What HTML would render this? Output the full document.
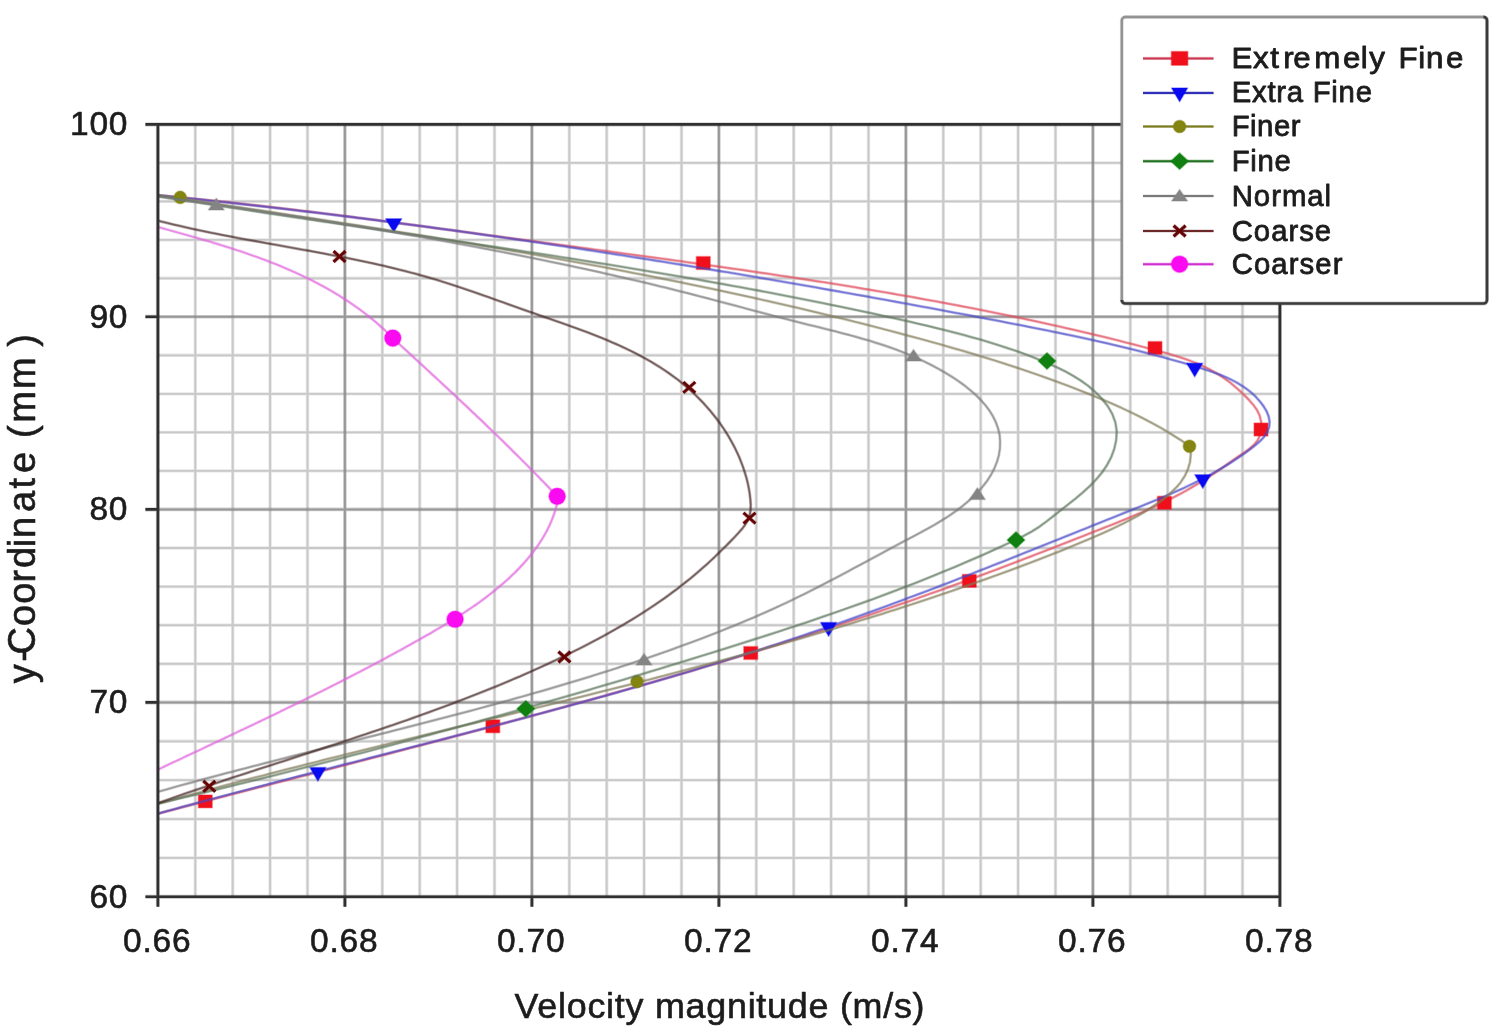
<!DOCTYPE html>
<html lang="en"><head><meta charset="utf-8"><title>Velocity magnitude vs y-Coordinate</title>
<style>html,body{margin:0;padding:0;background:#fff}body{width:1504px;height:1032px;overflow:hidden}svg{display:block}text{font-family:"Liberation Sans",sans-serif;fill:#1c1c1c}</style>
</head><body>
<svg width="1504" height="1032" viewBox="0 0 1504 1032">
<rect x="0" y="0" width="1504" height="1032" fill="#ffffff"/>
<defs><clipPath id="pc"><rect x="157.9" y="124.4" width="1122.0" height="772.4"/></clipPath></defs>
<g fill="none" stroke="#c0c0c0"><path d="M195.30,124.4V896.8M232.70,124.4V896.8M270.10,124.4V896.8M307.50,124.4V896.8M382.30,124.4V896.8M419.70,124.4V896.8M457.10,124.4V896.8M494.50,124.4V896.8M569.30,124.4V896.8M606.70,124.4V896.8M644.10,124.4V896.8M681.50,124.4V896.8M756.30,124.4V896.8M793.70,124.4V896.8M831.10,124.4V896.8M868.50,124.4V896.8M943.30,124.4V896.8M980.70,124.4V896.8M1018.10,124.4V896.8M1055.50,124.4V896.8M1130.30,124.4V896.8M1167.70,124.4V896.8M1205.10,124.4V896.8M1242.50,124.4V896.8M157.9,162.88H1279.9M157.9,201.36H1279.9M157.9,239.84H1279.9M157.9,278.32H1279.9M157.9,355.32H1279.9M157.9,393.84H1279.9M157.9,432.36H1279.9M157.9,470.88H1279.9M157.9,548.00H1279.9M157.9,586.60H1279.9M157.9,625.20H1279.9M157.9,663.80H1279.9M157.9,741.28H1279.9M157.9,780.16H1279.9M157.9,819.04H1279.9M157.9,857.92H1279.9" stroke-width="3.4" stroke-opacity="0.4"/><path d="M195.30,124.4V896.8M232.70,124.4V896.8M270.10,124.4V896.8M307.50,124.4V896.8M382.30,124.4V896.8M419.70,124.4V896.8M457.10,124.4V896.8M494.50,124.4V896.8M569.30,124.4V896.8M606.70,124.4V896.8M644.10,124.4V896.8M681.50,124.4V896.8M756.30,124.4V896.8M793.70,124.4V896.8M831.10,124.4V896.8M868.50,124.4V896.8M943.30,124.4V896.8M980.70,124.4V896.8M1018.10,124.4V896.8M1055.50,124.4V896.8M1130.30,124.4V896.8M1167.70,124.4V896.8M1205.10,124.4V896.8M1242.50,124.4V896.8M157.9,162.88H1279.9M157.9,201.36H1279.9M157.9,239.84H1279.9M157.9,278.32H1279.9M157.9,355.32H1279.9M157.9,393.84H1279.9M157.9,432.36H1279.9M157.9,470.88H1279.9M157.9,548.00H1279.9M157.9,586.60H1279.9M157.9,625.20H1279.9M157.9,663.80H1279.9M157.9,741.28H1279.9M157.9,780.16H1279.9M157.9,819.04H1279.9M157.9,857.92H1279.9" stroke-width="1.8" stroke-opacity="0.8"/></g>
<g fill="none" stroke="#8a8a8a"><path d="M344.90,124.4V896.8M531.90,124.4V896.8M718.90,124.4V896.8M905.90,124.4V896.8M1092.90,124.4V896.8M157.9,316.80H1279.9M157.9,509.40H1279.9M157.9,702.40H1279.9" stroke-width="3.6" stroke-opacity="0.4"/><path d="M344.90,124.4V896.8M531.90,124.4V896.8M718.90,124.4V896.8M905.90,124.4V896.8M1092.90,124.4V896.8M157.9,316.80H1279.9M157.9,509.40H1279.9M157.9,702.40H1279.9" stroke-width="2.0" stroke-opacity="0.8"/></g>
<g fill="none" stroke="#e04858" stroke-linecap="round" stroke-linejoin="round" clip-path="url(#pc)"><path d="M158.0,195.4 L164.3,195.9 L170.5,196.5 L176.8,197.1 L183.0,197.7 L189.3,198.3 L195.5,198.9 L201.8,199.5 L208.1,200.2 L214.3,200.8 L220.6,201.5 L226.8,202.1 L233.0,202.8 L239.3,203.5 L245.5,204.2 L251.8,204.9 L258.0,205.6 L264.2,206.3 L270.5,207.0 L276.7,207.7 L283.0,208.5 L289.2,209.2 L295.4,209.9 L301.6,210.7 L307.9,211.4 L314.1,212.2 L320.3,213.0 L326.6,213.7 L332.8,214.5 L339.0,215.3 L345.2,216.1 L351.5,216.9 L357.7,217.7 L363.9,218.5 L370.1,219.3 L376.3,220.1 L382.6,220.9 L388.8,221.7 L395.0,222.6 L401.2,223.4 L407.4,224.2 L413.6,225.1 L419.9,225.9 L426.1,226.7 L432.3,227.6 L438.5,228.4 L444.7,229.2 L451.0,230.1 L457.2,230.9 L463.4,231.8 L469.6,232.6 L475.8,233.5 L482.0,234.3 L488.3,235.2 L494.5,236.0 L500.7,236.8 L506.9,237.7 L513.1,238.5 L519.4,239.4 L525.6,240.2 L531.8,241.1 L538.0,241.9 L544.2,242.8 L550.5,243.6 L556.7,244.4 L562.9,245.3 L569.1,246.1 L575.4,246.9 L581.6,247.8 L587.8,248.6 L594.0,249.5 L600.3,250.3 L606.5,251.1 L612.7,252.0 L618.9,252.8 L625.2,253.7 L631.4,254.5 L637.6,255.4 L643.9,256.2 L650.1,257.1 L656.3,257.9 L662.5,258.8 L668.8,259.6 L675.0,260.5 L681.2,261.3 L687.4,262.2 L693.6,263.1 L699.9,263.9 L706.1,264.8 L712.3,265.7 L718.5,266.6 L724.8,267.5 L731.0,268.4 L737.2,269.2 L743.4,270.1 L749.6,271.1 L755.8,272.0 L762.1,272.9 L768.3,273.8 L774.5,274.7 L780.7,275.7 L786.9,276.6 L793.1,277.5 L799.3,278.5 L805.5,279.4 L811.7,280.4 L818.0,281.4 L824.2,282.3 L830.4,283.3 L836.6,284.3 L842.8,285.3 L849.0,286.3 L855.2,287.3 L861.3,288.4 L867.5,289.4 L873.7,290.4 L879.9,291.5 L886.1,292.5 L892.3,293.6 L898.5,294.7 L904.7,295.7 L910.8,296.8 L917.0,297.9 L923.2,299.1 L929.4,300.2 L935.5,301.3 L941.7,302.4 L947.9,303.6 L954.0,304.8 L960.2,305.9 L966.4,307.1 L972.5,308.3 L978.7,309.5 L984.8,310.7 L991.0,312.0 L997.1,313.2 L1003.3,314.5 L1009.4,315.7 L1015.5,317.0 L1021.7,318.3 L1027.8,319.6 L1033.9,320.9 L1040.1,322.3 L1046.2,323.6 L1052.3,325.0 L1058.4,326.3 L1064.5,327.7 L1070.7,329.1 L1076.8,330.5 L1082.9,332.0 L1089.0,333.4 L1095.1,334.9 L1101.2,336.3 L1107.3,337.8 L1113.4,339.3 L1119.4,340.8 L1125.5,342.4 L1131.6,343.9 L1137.7,345.5 L1143.7,347.1 L1149.8,348.7 L1155.9,350.3 L1161.9,351.9 L1168.0,353.6 L1174.0,355.4 L1180.0,357.3 L1185.9,359.2 L1191.8,361.4 L1197.6,363.7 L1203.3,366.3 L1209.0,369.0 L1214.5,372.1 L1220.0,375.4 L1225.3,379.0 L1230.5,382.9 L1235.5,387.1 L1240.4,391.4 L1245.0,395.9 L1249.4,400.4 L1253.4,405.0 L1256.9,409.9 L1259.6,415.4 L1261.1,421.6 L1261.4,428.2 L1260.4,434.4 L1257.9,439.9 L1254.2,444.6 L1249.6,448.7 L1244.5,452.4 L1239.2,456.0 L1233.9,459.6 L1228.7,463.2 L1223.5,466.9 L1218.4,470.4 L1213.2,474.0 L1208.0,477.5 L1202.7,480.8 L1197.4,484.1 L1192.0,487.3 L1186.6,490.4 L1181.2,493.4 L1175.6,496.3 L1170.1,499.2 L1164.5,501.9 L1158.8,504.6 L1153.1,507.3 L1147.4,509.8 L1141.7,512.4 L1135.9,514.8 L1130.1,517.3 L1124.3,519.7 L1118.5,522.1 L1112.7,524.4 L1106.8,526.7 L1101.0,529.0 L1095.1,531.3 L1089.3,533.6 L1083.4,535.9 L1077.5,538.2 L1071.7,540.5 L1065.8,542.8 L1060.0,545.1 L1054.1,547.4 L1048.3,549.7 L1042.4,551.9 L1036.5,554.2 L1030.7,556.5 L1024.8,558.7 L1018.9,561.0 L1013.1,563.2 L1007.2,565.4 L1001.3,567.7 L995.5,569.9 L989.6,572.1 L983.7,574.3 L977.8,576.5 L971.9,578.7 L966.1,580.8 L960.2,583.0 L954.3,585.1 L948.4,587.3 L942.5,589.4 L936.6,591.5 L930.6,593.6 L924.7,595.7 L918.8,597.8 L912.9,599.9 L907.0,602.0 L901.0,604.0 L895.1,606.1 L889.2,608.1 L883.2,610.1 L877.3,612.2 L871.4,614.2 L865.4,616.2 L859.5,618.2 L853.5,620.1 L847.5,622.1 L841.6,624.1 L835.6,626.0 L829.7,628.0 L823.7,629.9 L817.7,631.9 L811.8,633.8 L805.8,635.7 L799.8,637.6 L793.8,639.5 L787.8,641.4 L781.8,643.3 L775.9,645.2 L769.9,647.0 L763.9,648.9 L757.9,650.8 L751.9,652.6 L745.9,654.4 L739.9,656.3 L733.9,658.1 L727.9,659.9 L721.9,661.7 L715.8,663.5 L709.8,665.3 L703.8,667.1 L697.8,668.9 L691.8,670.7 L685.7,672.5 L679.7,674.2 L673.7,676.0 L667.7,677.7 L661.6,679.5 L655.6,681.2 L649.6,683.0 L643.5,684.7 L637.5,686.4 L631.5,688.1 L625.4,689.9 L619.4,691.6 L613.3,693.3 L607.3,695.0 L601.2,696.7 L595.2,698.4 L589.1,700.1 L583.1,701.7 L577.0,703.4 L571.0,705.1 L564.9,706.8 L558.9,708.4 L552.8,710.1 L546.8,711.7 L540.7,713.4 L534.6,715.0 L528.6,716.7 L522.5,718.3 L516.4,719.9 L510.4,721.6 L504.3,723.2 L498.2,724.8 L492.2,726.5 L486.1,728.1 L480.0,729.7 L474.0,731.3 L467.9,732.9 L461.8,734.5 L455.7,736.1 L449.7,737.7 L443.6,739.3 L437.5,740.9 L431.4,742.5 L425.4,744.1 L419.3,745.7 L413.2,747.3 L407.1,748.9 L401.1,750.5 L395.0,752.1 L388.9,753.7 L382.8,755.3 L376.7,756.8 L370.7,758.4 L364.6,760.0 L358.5,761.6 L352.4,763.1 L346.4,764.7 L340.3,766.3 L334.2,767.9 L328.1,769.4 L322.0,771.0 L316.0,772.6 L309.9,774.2 L303.8,775.7 L297.7,777.3 L291.6,778.9 L285.6,780.5 L279.5,782.0 L273.4,783.6 L267.3,785.2 L261.3,786.7 L255.2,788.3 L249.1,789.9 L243.0,791.5 L237.0,793.0 L230.9,794.6 L224.8,796.2 L218.8,797.8 L212.7,799.4 L206.6,800.9 L200.5,802.5 L194.5,804.1 L188.4,805.7 L182.3,807.3 L176.3,808.9 L170.2,810.5 L164.1,812.1 L158.1,813.7" stroke-width="3.0" stroke-opacity="0.35"/><path d="M158.0,195.4 L164.3,195.9 L170.5,196.5 L176.8,197.1 L183.0,197.7 L189.3,198.3 L195.5,198.9 L201.8,199.5 L208.1,200.2 L214.3,200.8 L220.6,201.5 L226.8,202.1 L233.0,202.8 L239.3,203.5 L245.5,204.2 L251.8,204.9 L258.0,205.6 L264.2,206.3 L270.5,207.0 L276.7,207.7 L283.0,208.5 L289.2,209.2 L295.4,209.9 L301.6,210.7 L307.9,211.4 L314.1,212.2 L320.3,213.0 L326.6,213.7 L332.8,214.5 L339.0,215.3 L345.2,216.1 L351.5,216.9 L357.7,217.7 L363.9,218.5 L370.1,219.3 L376.3,220.1 L382.6,220.9 L388.8,221.7 L395.0,222.6 L401.2,223.4 L407.4,224.2 L413.6,225.1 L419.9,225.9 L426.1,226.7 L432.3,227.6 L438.5,228.4 L444.7,229.2 L451.0,230.1 L457.2,230.9 L463.4,231.8 L469.6,232.6 L475.8,233.5 L482.0,234.3 L488.3,235.2 L494.5,236.0 L500.7,236.8 L506.9,237.7 L513.1,238.5 L519.4,239.4 L525.6,240.2 L531.8,241.1 L538.0,241.9 L544.2,242.8 L550.5,243.6 L556.7,244.4 L562.9,245.3 L569.1,246.1 L575.4,246.9 L581.6,247.8 L587.8,248.6 L594.0,249.5 L600.3,250.3 L606.5,251.1 L612.7,252.0 L618.9,252.8 L625.2,253.7 L631.4,254.5 L637.6,255.4 L643.9,256.2 L650.1,257.1 L656.3,257.9 L662.5,258.8 L668.8,259.6 L675.0,260.5 L681.2,261.3 L687.4,262.2 L693.6,263.1 L699.9,263.9 L706.1,264.8 L712.3,265.7 L718.5,266.6 L724.8,267.5 L731.0,268.4 L737.2,269.2 L743.4,270.1 L749.6,271.1 L755.8,272.0 L762.1,272.9 L768.3,273.8 L774.5,274.7 L780.7,275.7 L786.9,276.6 L793.1,277.5 L799.3,278.5 L805.5,279.4 L811.7,280.4 L818.0,281.4 L824.2,282.3 L830.4,283.3 L836.6,284.3 L842.8,285.3 L849.0,286.3 L855.2,287.3 L861.3,288.4 L867.5,289.4 L873.7,290.4 L879.9,291.5 L886.1,292.5 L892.3,293.6 L898.5,294.7 L904.7,295.7 L910.8,296.8 L917.0,297.9 L923.2,299.1 L929.4,300.2 L935.5,301.3 L941.7,302.4 L947.9,303.6 L954.0,304.8 L960.2,305.9 L966.4,307.1 L972.5,308.3 L978.7,309.5 L984.8,310.7 L991.0,312.0 L997.1,313.2 L1003.3,314.5 L1009.4,315.7 L1015.5,317.0 L1021.7,318.3 L1027.8,319.6 L1033.9,320.9 L1040.1,322.3 L1046.2,323.6 L1052.3,325.0 L1058.4,326.3 L1064.5,327.7 L1070.7,329.1 L1076.8,330.5 L1082.9,332.0 L1089.0,333.4 L1095.1,334.9 L1101.2,336.3 L1107.3,337.8 L1113.4,339.3 L1119.4,340.8 L1125.5,342.4 L1131.6,343.9 L1137.7,345.5 L1143.7,347.1 L1149.8,348.7 L1155.9,350.3 L1161.9,351.9 L1168.0,353.6 L1174.0,355.4 L1180.0,357.3 L1185.9,359.2 L1191.8,361.4 L1197.6,363.7 L1203.3,366.3 L1209.0,369.0 L1214.5,372.1 L1220.0,375.4 L1225.3,379.0 L1230.5,382.9 L1235.5,387.1 L1240.4,391.4 L1245.0,395.9 L1249.4,400.4 L1253.4,405.0 L1256.9,409.9 L1259.6,415.4 L1261.1,421.6 L1261.4,428.2 L1260.4,434.4 L1257.9,439.9 L1254.2,444.6 L1249.6,448.7 L1244.5,452.4 L1239.2,456.0 L1233.9,459.6 L1228.7,463.2 L1223.5,466.9 L1218.4,470.4 L1213.2,474.0 L1208.0,477.5 L1202.7,480.8 L1197.4,484.1 L1192.0,487.3 L1186.6,490.4 L1181.2,493.4 L1175.6,496.3 L1170.1,499.2 L1164.5,501.9 L1158.8,504.6 L1153.1,507.3 L1147.4,509.8 L1141.7,512.4 L1135.9,514.8 L1130.1,517.3 L1124.3,519.7 L1118.5,522.1 L1112.7,524.4 L1106.8,526.7 L1101.0,529.0 L1095.1,531.3 L1089.3,533.6 L1083.4,535.9 L1077.5,538.2 L1071.7,540.5 L1065.8,542.8 L1060.0,545.1 L1054.1,547.4 L1048.3,549.7 L1042.4,551.9 L1036.5,554.2 L1030.7,556.5 L1024.8,558.7 L1018.9,561.0 L1013.1,563.2 L1007.2,565.4 L1001.3,567.7 L995.5,569.9 L989.6,572.1 L983.7,574.3 L977.8,576.5 L971.9,578.7 L966.1,580.8 L960.2,583.0 L954.3,585.1 L948.4,587.3 L942.5,589.4 L936.6,591.5 L930.6,593.6 L924.7,595.7 L918.8,597.8 L912.9,599.9 L907.0,602.0 L901.0,604.0 L895.1,606.1 L889.2,608.1 L883.2,610.1 L877.3,612.2 L871.4,614.2 L865.4,616.2 L859.5,618.2 L853.5,620.1 L847.5,622.1 L841.6,624.1 L835.6,626.0 L829.7,628.0 L823.7,629.9 L817.7,631.9 L811.8,633.8 L805.8,635.7 L799.8,637.6 L793.8,639.5 L787.8,641.4 L781.8,643.3 L775.9,645.2 L769.9,647.0 L763.9,648.9 L757.9,650.8 L751.9,652.6 L745.9,654.4 L739.9,656.3 L733.9,658.1 L727.9,659.9 L721.9,661.7 L715.8,663.5 L709.8,665.3 L703.8,667.1 L697.8,668.9 L691.8,670.7 L685.7,672.5 L679.7,674.2 L673.7,676.0 L667.7,677.7 L661.6,679.5 L655.6,681.2 L649.6,683.0 L643.5,684.7 L637.5,686.4 L631.5,688.1 L625.4,689.9 L619.4,691.6 L613.3,693.3 L607.3,695.0 L601.2,696.7 L595.2,698.4 L589.1,700.1 L583.1,701.7 L577.0,703.4 L571.0,705.1 L564.9,706.8 L558.9,708.4 L552.8,710.1 L546.8,711.7 L540.7,713.4 L534.6,715.0 L528.6,716.7 L522.5,718.3 L516.4,719.9 L510.4,721.6 L504.3,723.2 L498.2,724.8 L492.2,726.5 L486.1,728.1 L480.0,729.7 L474.0,731.3 L467.9,732.9 L461.8,734.5 L455.7,736.1 L449.7,737.7 L443.6,739.3 L437.5,740.9 L431.4,742.5 L425.4,744.1 L419.3,745.7 L413.2,747.3 L407.1,748.9 L401.1,750.5 L395.0,752.1 L388.9,753.7 L382.8,755.3 L376.7,756.8 L370.7,758.4 L364.6,760.0 L358.5,761.6 L352.4,763.1 L346.4,764.7 L340.3,766.3 L334.2,767.9 L328.1,769.4 L322.0,771.0 L316.0,772.6 L309.9,774.2 L303.8,775.7 L297.7,777.3 L291.6,778.9 L285.6,780.5 L279.5,782.0 L273.4,783.6 L267.3,785.2 L261.3,786.7 L255.2,788.3 L249.1,789.9 L243.0,791.5 L237.0,793.0 L230.9,794.6 L224.8,796.2 L218.8,797.8 L212.7,799.4 L206.6,800.9 L200.5,802.5 L194.5,804.1 L188.4,805.7 L182.3,807.3 L176.3,808.9 L170.2,810.5 L164.1,812.1 L158.1,813.7" stroke-width="1.6" stroke-opacity="0.6"/></g>
<rect x="198.4" y="795.0" width="13.8" height="12.8" fill="#f0101c" stroke="#f0101c" stroke-width="1.6" stroke-opacity="0.35" stroke-linejoin="round"/>
<rect x="485.9" y="719.9" width="13.8" height="12.8" fill="#f0101c" stroke="#f0101c" stroke-width="1.6" stroke-opacity="0.35" stroke-linejoin="round"/>
<rect x="743.8" y="646.6" width="13.8" height="12.8" fill="#f0101c" stroke="#f0101c" stroke-width="1.6" stroke-opacity="0.35" stroke-linejoin="round"/>
<rect x="962.4" y="574.5" width="13.8" height="12.8" fill="#f0101c" stroke="#f0101c" stroke-width="1.6" stroke-opacity="0.35" stroke-linejoin="round"/>
<rect x="1157.5" y="496.4" width="13.8" height="12.8" fill="#f0101c" stroke="#f0101c" stroke-width="1.6" stroke-opacity="0.35" stroke-linejoin="round"/>
<rect x="1254.1" y="423.1" width="13.8" height="12.8" fill="#f0101c" stroke="#f0101c" stroke-width="1.6" stroke-opacity="0.35" stroke-linejoin="round"/>
<rect x="1148.1" y="341.6" width="13.8" height="12.8" fill="#f0101c" stroke="#f0101c" stroke-width="1.6" stroke-opacity="0.35" stroke-linejoin="round"/>
<rect x="696.4" y="256.6" width="13.8" height="12.8" fill="#f0101c" stroke="#f0101c" stroke-width="1.6" stroke-opacity="0.35" stroke-linejoin="round"/>
<g fill="none" stroke="#4848c8" stroke-linecap="round" stroke-linejoin="round" clip-path="url(#pc)"><path d="M158.2,195.2 L164.0,195.8 L169.9,196.4 L175.8,197.0 L181.7,197.6 L187.5,198.2 L193.4,198.8 L199.3,199.4 L205.2,200.1 L211.1,200.7 L216.9,201.3 L222.8,202.0 L228.7,202.6 L234.6,203.2 L240.5,203.9 L246.3,204.6 L252.2,205.2 L258.1,205.9 L264.0,206.6 L269.8,207.2 L275.7,207.9 L281.6,208.6 L287.5,209.3 L293.4,210.0 L299.2,210.7 L305.1,211.4 L311.0,212.1 L316.9,212.8 L322.8,213.5 L328.6,214.2 L334.5,214.9 L340.4,215.7 L346.3,216.4 L352.2,217.1 L358.0,217.9 L363.9,218.6 L369.8,219.4 L375.7,220.1 L381.6,220.9 L387.4,221.6 L393.3,222.4 L399.2,223.2 L405.1,224.0 L410.9,224.7 L416.8,225.5 L422.7,226.3 L428.6,227.1 L434.5,227.9 L440.3,228.7 L446.2,229.5 L452.1,230.3 L458.0,231.1 L463.8,231.9 L469.7,232.7 L475.6,233.6 L481.4,234.4 L487.3,235.2 L493.2,236.0 L499.1,236.9 L504.9,237.7 L510.8,238.6 L516.7,239.4 L522.6,240.3 L528.4,241.1 L534.3,242.0 L540.2,242.8 L546.0,243.7 L551.9,244.6 L557.8,245.5 L563.6,246.3 L569.5,247.2 L575.4,248.1 L581.2,249.0 L587.1,249.9 L593.0,250.8 L598.8,251.7 L604.7,252.6 L610.5,253.5 L616.4,254.4 L622.3,255.3 L628.1,256.2 L634.0,257.2 L639.8,258.1 L645.7,259.0 L651.5,259.9 L657.4,260.9 L663.3,261.8 L669.1,262.8 L675.0,263.7 L680.8,264.6 L686.7,265.6 L692.5,266.6 L698.4,267.5 L704.2,268.5 L710.1,269.4 L715.9,270.4 L721.8,271.4 L727.6,272.3 L733.5,273.3 L739.3,274.3 L745.1,275.3 L751.0,276.3 L756.8,277.3 L762.7,278.3 L768.5,279.3 L774.3,280.3 L780.2,281.3 L786.0,282.3 L791.8,283.3 L797.7,284.3 L803.5,285.3 L809.3,286.3 L815.2,287.3 L821.0,288.4 L826.8,289.4 L832.7,290.4 L838.5,291.4 L844.3,292.5 L850.1,293.5 L856.0,294.6 L861.8,295.6 L867.6,296.6 L873.4,297.7 L879.2,298.7 L885.1,299.8 L890.9,300.9 L896.7,301.9 L902.5,303.0 L908.3,304.0 L914.1,305.1 L919.9,306.2 L925.7,307.3 L931.5,308.3 L937.3,309.4 L943.1,310.5 L948.9,311.6 L954.8,312.7 L960.5,313.8 L966.3,314.8 L972.1,315.9 L977.9,317.0 L983.7,318.1 L989.5,319.2 L995.3,320.3 L1001.1,321.4 L1006.9,322.6 L1012.7,323.7 L1018.5,324.8 L1024.2,325.9 L1030.0,327.1 L1035.8,328.2 L1041.6,329.4 L1047.4,330.5 L1053.2,331.7 L1058.9,332.9 L1064.7,334.1 L1070.5,335.3 L1076.3,336.5 L1082.1,337.8 L1087.8,339.0 L1093.6,340.3 L1099.4,341.6 L1105.2,342.9 L1111.0,344.3 L1116.8,345.6 L1122.5,347.0 L1128.3,348.4 L1134.1,349.8 L1139.9,351.3 L1145.7,352.7 L1151.5,354.2 L1157.3,355.8 L1163.1,357.3 L1168.9,358.9 L1174.6,360.5 L1180.4,362.1 L1186.2,363.8 L1192.0,365.5 L1197.8,367.3 L1203.6,369.0 L1209.4,370.9 L1215.1,372.9 L1220.7,375.0 L1226.2,377.3 L1231.6,379.9 L1236.8,382.6 L1241.9,385.7 L1246.7,389.0 L1251.3,392.7 L1255.7,396.7 L1259.7,401.2 L1263.4,406.0 L1266.5,411.1 L1268.6,416.4 L1269.6,421.7 L1269.2,426.9 L1267.3,431.9 L1264.3,436.6 L1260.3,440.9 L1255.7,444.9 L1250.9,448.7 L1246.0,452.3 L1241.0,455.8 L1236.0,459.2 L1231.0,462.5 L1225.9,465.7 L1220.8,468.8 L1215.6,471.7 L1210.4,474.6 L1205.2,477.4 L1200.0,480.1 L1194.7,482.8 L1189.3,485.4 L1184.0,487.9 L1178.6,490.3 L1173.2,492.7 L1167.8,495.1 L1162.4,497.4 L1157.0,499.7 L1151.5,501.9 L1146.0,504.2 L1140.6,506.4 L1135.1,508.6 L1129.6,510.8 L1124.1,513.0 L1118.7,515.2 L1113.2,517.4 L1107.7,519.6 L1102.2,521.8 L1096.7,524.0 L1091.2,526.2 L1085.8,528.4 L1080.3,530.6 L1074.8,532.8 L1069.3,535.0 L1063.8,537.2 L1058.3,539.4 L1052.8,541.6 L1047.3,543.8 L1041.8,546.0 L1036.3,548.2 L1030.8,550.4 L1025.3,552.6 L1019.8,554.8 L1014.3,557.0 L1008.8,559.2 L1003.3,561.4 L997.8,563.5 L992.2,565.7 L986.7,567.9 L981.2,570.0 L975.7,572.2 L970.2,574.4 L964.6,576.5 L959.1,578.6 L953.6,580.8 L948.1,582.9 L942.5,585.0 L937.0,587.2 L931.4,589.3 L925.9,591.4 L920.3,593.5 L914.8,595.6 L909.2,597.6 L903.7,599.7 L898.1,601.8 L892.6,603.8 L887.0,605.9 L881.4,607.9 L875.9,610.0 L870.3,612.0 L864.7,614.0 L859.2,616.0 L853.6,618.0 L848.0,620.0 L842.4,621.9 L836.8,623.9 L831.2,625.8 L825.6,627.8 L820.0,629.7 L814.4,631.6 L808.8,633.5 L803.2,635.4 L797.6,637.3 L791.9,639.2 L786.3,641.0 L780.7,642.9 L775.1,644.7 L769.4,646.5 L763.8,648.4 L758.2,650.2 L752.5,652.0 L746.9,653.8 L741.2,655.6 L735.6,657.3 L729.9,659.1 L724.3,660.8 L718.6,662.6 L712.9,664.3 L707.3,666.1 L701.6,667.8 L695.9,669.5 L690.3,671.2 L684.6,672.9 L678.9,674.6 L673.2,676.2 L667.6,677.9 L661.9,679.6 L656.2,681.2 L650.5,682.9 L644.8,684.5 L639.1,686.2 L633.4,687.8 L627.7,689.4 L622.0,691.0 L616.3,692.7 L610.6,694.3 L604.9,695.9 L599.2,697.4 L593.5,699.0 L587.8,700.6 L582.1,702.2 L576.4,703.8 L570.7,705.3 L565.0,706.9 L559.2,708.4 L553.5,710.0 L547.8,711.5 L542.1,713.1 L536.4,714.6 L530.6,716.1 L524.9,717.7 L519.2,719.2 L513.5,720.7 L507.7,722.2 L502.0,723.8 L496.3,725.3 L490.5,726.8 L484.8,728.3 L479.1,729.8 L473.3,731.3 L467.6,732.8 L461.9,734.3 L456.1,735.8 L450.4,737.2 L444.7,738.7 L438.9,740.2 L433.2,741.7 L427.4,743.2 L421.7,744.7 L416.0,746.1 L410.2,747.6 L404.5,749.1 L398.7,750.6 L393.0,752.0 L387.3,753.5 L381.5,755.0 L375.8,756.5 L370.0,757.9 L364.3,759.4 L358.6,760.9 L352.8,762.4 L347.1,763.8 L341.3,765.3 L335.6,766.8 L329.9,768.3 L324.1,769.7 L318.4,771.2 L312.6,772.7 L306.9,774.2 L301.2,775.6 L295.4,777.1 L289.7,778.6 L284.0,780.1 L278.2,781.6 L272.5,783.1 L266.7,784.6 L261.0,786.1 L255.3,787.6 L249.6,789.1 L243.8,790.6 L238.1,792.1 L232.4,793.6 L226.6,795.1 L220.9,796.6 L215.2,798.1 L209.5,799.7 L203.7,801.2 L198.0,802.7 L192.3,804.3 L186.6,805.8 L180.9,807.3 L175.2,808.9 L169.4,810.4 L163.7,812.0 L158.0,813.6" stroke-width="3.0" stroke-opacity="0.35"/><path d="M158.2,195.2 L164.0,195.8 L169.9,196.4 L175.8,197.0 L181.7,197.6 L187.5,198.2 L193.4,198.8 L199.3,199.4 L205.2,200.1 L211.1,200.7 L216.9,201.3 L222.8,202.0 L228.7,202.6 L234.6,203.2 L240.5,203.9 L246.3,204.6 L252.2,205.2 L258.1,205.9 L264.0,206.6 L269.8,207.2 L275.7,207.9 L281.6,208.6 L287.5,209.3 L293.4,210.0 L299.2,210.7 L305.1,211.4 L311.0,212.1 L316.9,212.8 L322.8,213.5 L328.6,214.2 L334.5,214.9 L340.4,215.7 L346.3,216.4 L352.2,217.1 L358.0,217.9 L363.9,218.6 L369.8,219.4 L375.7,220.1 L381.6,220.9 L387.4,221.6 L393.3,222.4 L399.2,223.2 L405.1,224.0 L410.9,224.7 L416.8,225.5 L422.7,226.3 L428.6,227.1 L434.5,227.9 L440.3,228.7 L446.2,229.5 L452.1,230.3 L458.0,231.1 L463.8,231.9 L469.7,232.7 L475.6,233.6 L481.4,234.4 L487.3,235.2 L493.2,236.0 L499.1,236.9 L504.9,237.7 L510.8,238.6 L516.7,239.4 L522.6,240.3 L528.4,241.1 L534.3,242.0 L540.2,242.8 L546.0,243.7 L551.9,244.6 L557.8,245.5 L563.6,246.3 L569.5,247.2 L575.4,248.1 L581.2,249.0 L587.1,249.9 L593.0,250.8 L598.8,251.7 L604.7,252.6 L610.5,253.5 L616.4,254.4 L622.3,255.3 L628.1,256.2 L634.0,257.2 L639.8,258.1 L645.7,259.0 L651.5,259.9 L657.4,260.9 L663.3,261.8 L669.1,262.8 L675.0,263.7 L680.8,264.6 L686.7,265.6 L692.5,266.6 L698.4,267.5 L704.2,268.5 L710.1,269.4 L715.9,270.4 L721.8,271.4 L727.6,272.3 L733.5,273.3 L739.3,274.3 L745.1,275.3 L751.0,276.3 L756.8,277.3 L762.7,278.3 L768.5,279.3 L774.3,280.3 L780.2,281.3 L786.0,282.3 L791.8,283.3 L797.7,284.3 L803.5,285.3 L809.3,286.3 L815.2,287.3 L821.0,288.4 L826.8,289.4 L832.7,290.4 L838.5,291.4 L844.3,292.5 L850.1,293.5 L856.0,294.6 L861.8,295.6 L867.6,296.6 L873.4,297.7 L879.2,298.7 L885.1,299.8 L890.9,300.9 L896.7,301.9 L902.5,303.0 L908.3,304.0 L914.1,305.1 L919.9,306.2 L925.7,307.3 L931.5,308.3 L937.3,309.4 L943.1,310.5 L948.9,311.6 L954.8,312.7 L960.5,313.8 L966.3,314.8 L972.1,315.9 L977.9,317.0 L983.7,318.1 L989.5,319.2 L995.3,320.3 L1001.1,321.4 L1006.9,322.6 L1012.7,323.7 L1018.5,324.8 L1024.2,325.9 L1030.0,327.1 L1035.8,328.2 L1041.6,329.4 L1047.4,330.5 L1053.2,331.7 L1058.9,332.9 L1064.7,334.1 L1070.5,335.3 L1076.3,336.5 L1082.1,337.8 L1087.8,339.0 L1093.6,340.3 L1099.4,341.6 L1105.2,342.9 L1111.0,344.3 L1116.8,345.6 L1122.5,347.0 L1128.3,348.4 L1134.1,349.8 L1139.9,351.3 L1145.7,352.7 L1151.5,354.2 L1157.3,355.8 L1163.1,357.3 L1168.9,358.9 L1174.6,360.5 L1180.4,362.1 L1186.2,363.8 L1192.0,365.5 L1197.8,367.3 L1203.6,369.0 L1209.4,370.9 L1215.1,372.9 L1220.7,375.0 L1226.2,377.3 L1231.6,379.9 L1236.8,382.6 L1241.9,385.7 L1246.7,389.0 L1251.3,392.7 L1255.7,396.7 L1259.7,401.2 L1263.4,406.0 L1266.5,411.1 L1268.6,416.4 L1269.6,421.7 L1269.2,426.9 L1267.3,431.9 L1264.3,436.6 L1260.3,440.9 L1255.7,444.9 L1250.9,448.7 L1246.0,452.3 L1241.0,455.8 L1236.0,459.2 L1231.0,462.5 L1225.9,465.7 L1220.8,468.8 L1215.6,471.7 L1210.4,474.6 L1205.2,477.4 L1200.0,480.1 L1194.7,482.8 L1189.3,485.4 L1184.0,487.9 L1178.6,490.3 L1173.2,492.7 L1167.8,495.1 L1162.4,497.4 L1157.0,499.7 L1151.5,501.9 L1146.0,504.2 L1140.6,506.4 L1135.1,508.6 L1129.6,510.8 L1124.1,513.0 L1118.7,515.2 L1113.2,517.4 L1107.7,519.6 L1102.2,521.8 L1096.7,524.0 L1091.2,526.2 L1085.8,528.4 L1080.3,530.6 L1074.8,532.8 L1069.3,535.0 L1063.8,537.2 L1058.3,539.4 L1052.8,541.6 L1047.3,543.8 L1041.8,546.0 L1036.3,548.2 L1030.8,550.4 L1025.3,552.6 L1019.8,554.8 L1014.3,557.0 L1008.8,559.2 L1003.3,561.4 L997.8,563.5 L992.2,565.7 L986.7,567.9 L981.2,570.0 L975.7,572.2 L970.2,574.4 L964.6,576.5 L959.1,578.6 L953.6,580.8 L948.1,582.9 L942.5,585.0 L937.0,587.2 L931.4,589.3 L925.9,591.4 L920.3,593.5 L914.8,595.6 L909.2,597.6 L903.7,599.7 L898.1,601.8 L892.6,603.8 L887.0,605.9 L881.4,607.9 L875.9,610.0 L870.3,612.0 L864.7,614.0 L859.2,616.0 L853.6,618.0 L848.0,620.0 L842.4,621.9 L836.8,623.9 L831.2,625.8 L825.6,627.8 L820.0,629.7 L814.4,631.6 L808.8,633.5 L803.2,635.4 L797.6,637.3 L791.9,639.2 L786.3,641.0 L780.7,642.9 L775.1,644.7 L769.4,646.5 L763.8,648.4 L758.2,650.2 L752.5,652.0 L746.9,653.8 L741.2,655.6 L735.6,657.3 L729.9,659.1 L724.3,660.8 L718.6,662.6 L712.9,664.3 L707.3,666.1 L701.6,667.8 L695.9,669.5 L690.3,671.2 L684.6,672.9 L678.9,674.6 L673.2,676.2 L667.6,677.9 L661.9,679.6 L656.2,681.2 L650.5,682.9 L644.8,684.5 L639.1,686.2 L633.4,687.8 L627.7,689.4 L622.0,691.0 L616.3,692.7 L610.6,694.3 L604.9,695.9 L599.2,697.4 L593.5,699.0 L587.8,700.6 L582.1,702.2 L576.4,703.8 L570.7,705.3 L565.0,706.9 L559.2,708.4 L553.5,710.0 L547.8,711.5 L542.1,713.1 L536.4,714.6 L530.6,716.1 L524.9,717.7 L519.2,719.2 L513.5,720.7 L507.7,722.2 L502.0,723.8 L496.3,725.3 L490.5,726.8 L484.8,728.3 L479.1,729.8 L473.3,731.3 L467.6,732.8 L461.9,734.3 L456.1,735.8 L450.4,737.2 L444.7,738.7 L438.9,740.2 L433.2,741.7 L427.4,743.2 L421.7,744.7 L416.0,746.1 L410.2,747.6 L404.5,749.1 L398.7,750.6 L393.0,752.0 L387.3,753.5 L381.5,755.0 L375.8,756.5 L370.0,757.9 L364.3,759.4 L358.6,760.9 L352.8,762.4 L347.1,763.8 L341.3,765.3 L335.6,766.8 L329.9,768.3 L324.1,769.7 L318.4,771.2 L312.6,772.7 L306.9,774.2 L301.2,775.6 L295.4,777.1 L289.7,778.6 L284.0,780.1 L278.2,781.6 L272.5,783.1 L266.7,784.6 L261.0,786.1 L255.3,787.6 L249.6,789.1 L243.8,790.6 L238.1,792.1 L232.4,793.6 L226.6,795.1 L220.9,796.6 L215.2,798.1 L209.5,799.7 L203.7,801.2 L198.0,802.7 L192.3,804.3 L186.6,805.8 L180.9,807.3 L175.2,808.9 L169.4,810.4 L163.7,812.0 L158.0,813.6" stroke-width="1.6" stroke-opacity="0.6"/></g>
<path d="M309.9,767.5 L325.9,767.5 L317.9,781.1 Z" fill="#0a0af0" stroke="#0a0af0" stroke-width="1.6" stroke-opacity="0.35" stroke-linejoin="round"/>
<path d="M820.6,622.6 L836.6,622.6 L828.6,636.2 Z" fill="#0a0af0" stroke="#0a0af0" stroke-width="1.6" stroke-opacity="0.35" stroke-linejoin="round"/>
<path d="M1194.8,474.7 L1210.8,474.7 L1202.8,488.3 Z" fill="#0a0af0" stroke="#0a0af0" stroke-width="1.6" stroke-opacity="0.35" stroke-linejoin="round"/>
<path d="M1186.7,363.2 L1202.7,363.2 L1194.7,376.8 Z" fill="#0a0af0" stroke="#0a0af0" stroke-width="1.6" stroke-opacity="0.35" stroke-linejoin="round"/>
<path d="M385.7,218.7 L401.7,218.7 L393.7,232.3 Z" fill="#0a0af0" stroke="#0a0af0" stroke-width="1.6" stroke-opacity="0.35" stroke-linejoin="round"/>
<g fill="none" stroke="#807c58" stroke-linecap="round" stroke-linejoin="round" clip-path="url(#pc)"><path d="M158.1,195.2 L169.2,196.8 L180.3,198.5 L191.4,200.1 L202.5,201.8 L213.6,203.5 L224.7,205.1 L235.8,206.8 L246.9,208.5 L258.1,210.1 L269.2,211.8 L280.3,213.5 L291.4,215.2 L302.5,216.9 L313.6,218.6 L324.7,220.3 L335.8,222.0 L346.9,223.7 L358.0,225.4 L369.1,227.2 L380.2,228.9 L391.3,230.7 L402.4,232.5 L413.5,234.2 L424.5,236.0 L435.6,237.8 L446.7,239.7 L457.8,241.5 L468.9,243.3 L480.0,245.2 L491.0,247.1 L502.1,249.0 L513.2,250.9 L524.2,252.8 L535.3,254.8 L546.3,256.7 L557.4,258.7 L568.4,260.7 L579.5,262.7 L590.5,264.8 L601.6,266.8 L612.6,268.9 L623.6,271.0 L634.6,273.2 L645.7,275.3 L656.7,277.5 L667.7,279.7 L678.7,281.9 L689.7,284.2 L700.7,286.5 L711.7,288.8 L722.7,291.1 L733.6,293.5 L744.6,295.9 L755.6,298.3 L766.5,300.8 L777.5,303.3 L788.4,305.8 L799.4,308.3 L810.3,310.9 L821.2,313.5 L832.2,316.2 L843.1,318.8 L854.0,321.6 L864.9,324.3 L875.8,327.1 L886.7,329.9 L897.5,332.8 L908.4,335.7 L919.3,338.6 L930.1,341.6 L941.0,344.6 L951.8,347.7 L962.6,350.8 L973.4,354.0 L984.1,357.3 L994.9,360.6 L1005.6,364.0 L1016.3,367.5 L1026.9,371.1 L1037.5,374.7 L1048.1,378.5 L1058.6,382.3 L1069.1,386.2 L1079.6,390.3 L1090.0,394.4 L1100.4,398.7 L1110.7,403.1 L1120.9,407.6 L1131.0,412.4 L1141.1,417.3 L1151.0,422.5 L1160.9,427.9 L1170.6,433.7 L1180.2,439.7 L1189.6,446.1" stroke-width="3.0" stroke-opacity="0.35"/><path d="M158.1,195.2 L169.2,196.8 L180.3,198.5 L191.4,200.1 L202.5,201.8 L213.6,203.5 L224.7,205.1 L235.8,206.8 L246.9,208.5 L258.1,210.1 L269.2,211.8 L280.3,213.5 L291.4,215.2 L302.5,216.9 L313.6,218.6 L324.7,220.3 L335.8,222.0 L346.9,223.7 L358.0,225.4 L369.1,227.2 L380.2,228.9 L391.3,230.7 L402.4,232.5 L413.5,234.2 L424.5,236.0 L435.6,237.8 L446.7,239.7 L457.8,241.5 L468.9,243.3 L480.0,245.2 L491.0,247.1 L502.1,249.0 L513.2,250.9 L524.2,252.8 L535.3,254.8 L546.3,256.7 L557.4,258.7 L568.4,260.7 L579.5,262.7 L590.5,264.8 L601.6,266.8 L612.6,268.9 L623.6,271.0 L634.6,273.2 L645.7,275.3 L656.7,277.5 L667.7,279.7 L678.7,281.9 L689.7,284.2 L700.7,286.5 L711.7,288.8 L722.7,291.1 L733.6,293.5 L744.6,295.9 L755.6,298.3 L766.5,300.8 L777.5,303.3 L788.4,305.8 L799.4,308.3 L810.3,310.9 L821.2,313.5 L832.2,316.2 L843.1,318.8 L854.0,321.6 L864.9,324.3 L875.8,327.1 L886.7,329.9 L897.5,332.8 L908.4,335.7 L919.3,338.6 L930.1,341.6 L941.0,344.6 L951.8,347.7 L962.6,350.8 L973.4,354.0 L984.1,357.3 L994.9,360.6 L1005.6,364.0 L1016.3,367.5 L1026.9,371.1 L1037.5,374.7 L1048.1,378.5 L1058.6,382.3 L1069.1,386.2 L1079.6,390.3 L1090.0,394.4 L1100.4,398.7 L1110.7,403.1 L1120.9,407.6 L1131.0,412.4 L1141.1,417.3 L1151.0,422.5 L1160.9,427.9 L1170.6,433.7 L1180.2,439.7 L1189.6,446.1" stroke-width="1.6" stroke-opacity="0.6"/></g>
<g fill="none" stroke="#807c58" stroke-linecap="round" stroke-linejoin="round" clip-path="url(#pc)"><path d="M1190.1,446.2 L1190.8,454.5 L1190.0,462.2 L1187.9,469.4 L1184.7,476.1 L1180.6,482.4 L1175.6,488.2 L1169.9,493.7 L1163.8,498.8 L1157.3,503.5 L1150.6,508.0 L1143.9,512.2 L1137.1,516.2 L1130.2,519.9 L1123.3,523.5 L1116.3,526.9 L1109.3,530.2 L1102.2,533.4 L1095.1,536.5 L1088.0,539.6 L1080.8,542.6 L1073.6,545.6 L1066.4,548.5 L1059.2,551.5 L1052.0,554.3 L1044.7,557.2 L1037.4,560.0 L1030.1,562.8 L1022.8,565.5 L1015.5,568.3 L1008.2,571.0 L1000.8,573.7 L993.5,576.3 L986.1,579.0 L978.8,581.6 L971.4,584.2 L964.0,586.7 L956.7,589.3 L949.3,591.8 L941.9,594.3 L934.5,596.8 L927.1,599.3 L919.7,601.7 L912.3,604.2 L904.9,606.6 L897.4,609.0 L890.0,611.3 L882.6,613.7 L875.1,616.0 L867.7,618.3 L860.2,620.6 L852.8,622.9 L845.3,625.2 L837.9,627.4 L830.4,629.7 L822.9,631.9 L815.4,634.1 L807.9,636.3 L800.4,638.5 L793.0,640.6 L785.5,642.8 L777.9,644.9 L770.4,647.0 L762.9,649.1 L755.4,651.2 L747.9,653.3 L740.4,655.4 L732.8,657.4 L725.3,659.5 L717.8,661.5 L710.3,663.5 L702.7,665.5 L695.2,667.5 L687.6,669.5 L680.1,671.5 L672.5,673.5 L665.0,675.5 L657.4,677.4 L649.9,679.4 L642.3,681.3 L634.7,683.2 L627.2,685.2 L619.6,687.1 L612.0,689.0 L604.5,690.9 L596.9,692.8 L589.3,694.7 L581.7,696.6 L574.2,698.5 L566.6,700.4 L559.0,702.2 L551.4,704.1 L543.8,706.0 L536.3,707.8 L528.7,709.7 L521.1,711.5 L513.5,713.4 L505.9,715.3 L498.3,717.1 L490.7,719.0 L483.2,720.8 L475.6,722.7 L468.0,724.5 L460.4,726.4 L452.8,728.2 L445.2,730.0 L437.6,731.9 L430.0,733.7 L422.5,735.6 L414.9,737.5 L407.3,739.3 L399.7,741.2 L392.1,743.0 L384.5,744.9 L377.0,746.8 L369.4,748.6 L361.8,750.5 L354.2,752.4 L346.6,754.3 L339.1,756.2 L331.5,758.0 L323.9,759.9 L316.4,761.9 L308.8,763.8 L301.2,765.7 L293.7,767.6 L286.1,769.5 L278.5,771.5 L271.0,773.4 L263.4,775.4 L255.9,777.3 L248.3,779.3 L240.8,781.3 L233.3,783.3 L225.7,785.3 L218.2,787.3 L210.7,789.3 L203.1,791.4 L195.6,793.4 L188.1,795.5 L180.6,797.5 L173.1,799.6 L165.5,801.7 L158.0,803.8" stroke-width="3.0" stroke-opacity="0.35"/><path d="M1190.1,446.2 L1190.8,454.5 L1190.0,462.2 L1187.9,469.4 L1184.7,476.1 L1180.6,482.4 L1175.6,488.2 L1169.9,493.7 L1163.8,498.8 L1157.3,503.5 L1150.6,508.0 L1143.9,512.2 L1137.1,516.2 L1130.2,519.9 L1123.3,523.5 L1116.3,526.9 L1109.3,530.2 L1102.2,533.4 L1095.1,536.5 L1088.0,539.6 L1080.8,542.6 L1073.6,545.6 L1066.4,548.5 L1059.2,551.5 L1052.0,554.3 L1044.7,557.2 L1037.4,560.0 L1030.1,562.8 L1022.8,565.5 L1015.5,568.3 L1008.2,571.0 L1000.8,573.7 L993.5,576.3 L986.1,579.0 L978.8,581.6 L971.4,584.2 L964.0,586.7 L956.7,589.3 L949.3,591.8 L941.9,594.3 L934.5,596.8 L927.1,599.3 L919.7,601.7 L912.3,604.2 L904.9,606.6 L897.4,609.0 L890.0,611.3 L882.6,613.7 L875.1,616.0 L867.7,618.3 L860.2,620.6 L852.8,622.9 L845.3,625.2 L837.9,627.4 L830.4,629.7 L822.9,631.9 L815.4,634.1 L807.9,636.3 L800.4,638.5 L793.0,640.6 L785.5,642.8 L777.9,644.9 L770.4,647.0 L762.9,649.1 L755.4,651.2 L747.9,653.3 L740.4,655.4 L732.8,657.4 L725.3,659.5 L717.8,661.5 L710.3,663.5 L702.7,665.5 L695.2,667.5 L687.6,669.5 L680.1,671.5 L672.5,673.5 L665.0,675.5 L657.4,677.4 L649.9,679.4 L642.3,681.3 L634.7,683.2 L627.2,685.2 L619.6,687.1 L612.0,689.0 L604.5,690.9 L596.9,692.8 L589.3,694.7 L581.7,696.6 L574.2,698.5 L566.6,700.4 L559.0,702.2 L551.4,704.1 L543.8,706.0 L536.3,707.8 L528.7,709.7 L521.1,711.5 L513.5,713.4 L505.9,715.3 L498.3,717.1 L490.7,719.0 L483.2,720.8 L475.6,722.7 L468.0,724.5 L460.4,726.4 L452.8,728.2 L445.2,730.0 L437.6,731.9 L430.0,733.7 L422.5,735.6 L414.9,737.5 L407.3,739.3 L399.7,741.2 L392.1,743.0 L384.5,744.9 L377.0,746.8 L369.4,748.6 L361.8,750.5 L354.2,752.4 L346.6,754.3 L339.1,756.2 L331.5,758.0 L323.9,759.9 L316.4,761.9 L308.8,763.8 L301.2,765.7 L293.7,767.6 L286.1,769.5 L278.5,771.5 L271.0,773.4 L263.4,775.4 L255.9,777.3 L248.3,779.3 L240.8,781.3 L233.3,783.3 L225.7,785.3 L218.2,787.3 L210.7,789.3 L203.1,791.4 L195.6,793.4 L188.1,795.5 L180.6,797.5 L173.1,799.6 L165.5,801.7 L158.0,803.8" stroke-width="1.6" stroke-opacity="0.6"/></g>
<circle cx="637.0" cy="681.6" r="6.3" fill="#848410" stroke="#848410" stroke-width="1.6" stroke-opacity="0.35" stroke-linejoin="round"/>
<circle cx="1189.5" cy="446.3" r="6.3" fill="#848410" stroke="#848410" stroke-width="1.6" stroke-opacity="0.35" stroke-linejoin="round"/>
<circle cx="180.2" cy="197.4" r="6.3" fill="#848410" stroke="#848410" stroke-width="1.6" stroke-opacity="0.35" stroke-linejoin="round"/>
<g fill="none" stroke="#5a745a" stroke-linecap="round" stroke-linejoin="round" clip-path="url(#pc)"><path d="M158.0,196.0 L167.0,197.5 L175.9,198.9 L184.9,200.4 L193.9,201.8 L202.8,203.2 L211.8,204.6 L220.8,206.0 L229.8,207.4 L238.7,208.8 L247.7,210.1 L256.7,211.5 L265.7,212.9 L274.6,214.2 L283.6,215.6 L292.6,216.9 L301.6,218.3 L310.5,219.6 L319.5,221.0 L328.5,222.3 L337.5,223.6 L346.5,225.0 L355.4,226.3 L364.4,227.6 L373.4,228.9 L382.4,230.3 L391.4,231.6 L400.3,232.9 L409.3,234.2 L418.3,235.5 L427.3,236.9 L436.2,238.2 L445.2,239.5 L454.2,240.9 L463.2,242.2 L472.2,243.5 L481.1,244.9 L490.1,246.2 L499.1,247.6 L508.0,248.9 L517.0,250.3 L526.0,251.7 L535.0,253.0 L543.9,254.4 L552.9,255.8 L561.9,257.2 L570.8,258.6 L579.8,260.0 L588.7,261.4 L597.7,262.9 L606.7,264.3 L615.6,265.8 L624.6,267.2 L633.5,268.7 L642.5,270.2 L651.4,271.7 L660.4,273.2 L669.3,274.7 L678.3,276.2 L687.2,277.8 L696.2,279.3 L705.1,280.9 L714.0,282.5 L723.0,284.1 L731.9,285.7 L740.8,287.3 L749.8,289.0 L758.7,290.6 L767.6,292.3 L776.5,294.0 L785.4,295.7 L794.4,297.5 L803.3,299.2 L812.2,301.0 L821.1,302.8 L830.0,304.6 L838.9,306.4 L847.8,308.3 L856.7,310.1 L865.6,312.0 L874.5,313.9 L883.3,315.9 L892.2,317.8 L901.1,319.8 L910.0,321.8 L918.8,323.9 L927.7,325.9 L936.6,328.1 L945.4,330.2 L954.2,332.5 L963.0,334.8 L971.7,337.2 L980.5,339.6 L989.2,342.2 L997.8,344.9 L1006.4,347.7 L1015.0,350.6 L1023.5,353.6 L1032.0,356.8 L1040.4,360.2 L1048.7,363.7 L1056.9,367.3 L1065.1,371.3 L1073.0,375.7 L1080.7,380.5 L1088.2,385.9 L1095.3,392.0 L1101.9,398.8 L1107.8,406.2 L1112.4,414.2 L1115.4,422.5 L1116.7,431.2 L1116.2,440.0 L1114.3,448.7 L1111.2,457.2 L1106.9,465.3 L1101.8,472.8 L1095.9,479.8 L1089.5,486.4 L1082.6,492.6 L1075.5,498.6 L1068.2,504.4 L1060.9,510.1 L1053.7,515.8 L1046.6,521.4 L1039.4,526.7 L1031.8,531.5 L1023.9,535.8 L1015.7,539.7 L1007.5,543.6 L999.3,547.4 L991.1,551.2 L982.8,554.9 L974.5,558.5 L966.2,562.1 L957.9,565.7 L949.5,569.2 L941.1,572.6 L932.7,576.1 L924.3,579.4 L915.9,582.8 L907.4,586.1 L899.0,589.3 L890.5,592.5 L882.0,595.7 L873.5,598.9 L864.9,602.0 L856.4,605.0 L847.8,608.1 L839.3,611.1 L830.7,614.1 L822.1,617.0 L813.5,620.0 L804.9,622.9 L796.2,625.7 L787.6,628.6 L779.0,631.4 L770.3,634.2 L761.7,637.0 L753.0,639.8 L744.3,642.5 L735.7,645.3 L727.0,648.0 L718.3,650.7 L709.6,653.4 L701.0,656.1 L692.3,658.8 L683.6,661.5 L674.9,664.1 L666.2,666.8 L657.5,669.4 L648.8,672.0 L640.1,674.7 L631.4,677.3 L622.7,679.9 L614.0,682.5 L605.3,685.0 L596.6,687.6 L587.9,690.2 L579.2,692.7 L570.5,695.2 L561.8,697.8 L553.1,700.3 L544.3,702.8 L535.6,705.3 L526.9,707.8 L518.2,710.2 L509.4,712.7 L500.7,715.2 L492.0,717.6 L483.2,720.0 L474.5,722.5 L465.7,724.9 L457.0,727.3 L448.2,729.7 L439.5,732.1 L430.7,734.5 L422.0,736.8 L413.2,739.2 L404.5,741.5 L395.7,743.9 L386.9,746.2 L378.2,748.5 L369.4,750.9 L360.6,753.2 L351.8,755.4 L343.1,757.7 L334.3,760.0 L325.5,762.3 L316.7,764.5 L307.9,766.8 L299.1,769.0 L290.3,771.2 L281.5,773.5 L272.7,775.7 L263.9,777.9 L255.1,780.1 L246.3,782.3 L237.5,784.4 L228.6,786.6 L219.8,788.8 L211.0,790.9 L202.2,793.1 L193.3,795.2 L184.5,797.3 L175.7,799.4 L166.8,801.5 L158.0,803.6" stroke-width="3.0" stroke-opacity="0.35"/><path d="M158.0,196.0 L167.0,197.5 L175.9,198.9 L184.9,200.4 L193.9,201.8 L202.8,203.2 L211.8,204.6 L220.8,206.0 L229.8,207.4 L238.7,208.8 L247.7,210.1 L256.7,211.5 L265.7,212.9 L274.6,214.2 L283.6,215.6 L292.6,216.9 L301.6,218.3 L310.5,219.6 L319.5,221.0 L328.5,222.3 L337.5,223.6 L346.5,225.0 L355.4,226.3 L364.4,227.6 L373.4,228.9 L382.4,230.3 L391.4,231.6 L400.3,232.9 L409.3,234.2 L418.3,235.5 L427.3,236.9 L436.2,238.2 L445.2,239.5 L454.2,240.9 L463.2,242.2 L472.2,243.5 L481.1,244.9 L490.1,246.2 L499.1,247.6 L508.0,248.9 L517.0,250.3 L526.0,251.7 L535.0,253.0 L543.9,254.4 L552.9,255.8 L561.9,257.2 L570.8,258.6 L579.8,260.0 L588.7,261.4 L597.7,262.9 L606.7,264.3 L615.6,265.8 L624.6,267.2 L633.5,268.7 L642.5,270.2 L651.4,271.7 L660.4,273.2 L669.3,274.7 L678.3,276.2 L687.2,277.8 L696.2,279.3 L705.1,280.9 L714.0,282.5 L723.0,284.1 L731.9,285.7 L740.8,287.3 L749.8,289.0 L758.7,290.6 L767.6,292.3 L776.5,294.0 L785.4,295.7 L794.4,297.5 L803.3,299.2 L812.2,301.0 L821.1,302.8 L830.0,304.6 L838.9,306.4 L847.8,308.3 L856.7,310.1 L865.6,312.0 L874.5,313.9 L883.3,315.9 L892.2,317.8 L901.1,319.8 L910.0,321.8 L918.8,323.9 L927.7,325.9 L936.6,328.1 L945.4,330.2 L954.2,332.5 L963.0,334.8 L971.7,337.2 L980.5,339.6 L989.2,342.2 L997.8,344.9 L1006.4,347.7 L1015.0,350.6 L1023.5,353.6 L1032.0,356.8 L1040.4,360.2 L1048.7,363.7 L1056.9,367.3 L1065.1,371.3 L1073.0,375.7 L1080.7,380.5 L1088.2,385.9 L1095.3,392.0 L1101.9,398.8 L1107.8,406.2 L1112.4,414.2 L1115.4,422.5 L1116.7,431.2 L1116.2,440.0 L1114.3,448.7 L1111.2,457.2 L1106.9,465.3 L1101.8,472.8 L1095.9,479.8 L1089.5,486.4 L1082.6,492.6 L1075.5,498.6 L1068.2,504.4 L1060.9,510.1 L1053.7,515.8 L1046.6,521.4 L1039.4,526.7 L1031.8,531.5 L1023.9,535.8 L1015.7,539.7 L1007.5,543.6 L999.3,547.4 L991.1,551.2 L982.8,554.9 L974.5,558.5 L966.2,562.1 L957.9,565.7 L949.5,569.2 L941.1,572.6 L932.7,576.1 L924.3,579.4 L915.9,582.8 L907.4,586.1 L899.0,589.3 L890.5,592.5 L882.0,595.7 L873.5,598.9 L864.9,602.0 L856.4,605.0 L847.8,608.1 L839.3,611.1 L830.7,614.1 L822.1,617.0 L813.5,620.0 L804.9,622.9 L796.2,625.7 L787.6,628.6 L779.0,631.4 L770.3,634.2 L761.7,637.0 L753.0,639.8 L744.3,642.5 L735.7,645.3 L727.0,648.0 L718.3,650.7 L709.6,653.4 L701.0,656.1 L692.3,658.8 L683.6,661.5 L674.9,664.1 L666.2,666.8 L657.5,669.4 L648.8,672.0 L640.1,674.7 L631.4,677.3 L622.7,679.9 L614.0,682.5 L605.3,685.0 L596.6,687.6 L587.9,690.2 L579.2,692.7 L570.5,695.2 L561.8,697.8 L553.1,700.3 L544.3,702.8 L535.6,705.3 L526.9,707.8 L518.2,710.2 L509.4,712.7 L500.7,715.2 L492.0,717.6 L483.2,720.0 L474.5,722.5 L465.7,724.9 L457.0,727.3 L448.2,729.7 L439.5,732.1 L430.7,734.5 L422.0,736.8 L413.2,739.2 L404.5,741.5 L395.7,743.9 L386.9,746.2 L378.2,748.5 L369.4,750.9 L360.6,753.2 L351.8,755.4 L343.1,757.7 L334.3,760.0 L325.5,762.3 L316.7,764.5 L307.9,766.8 L299.1,769.0 L290.3,771.2 L281.5,773.5 L272.7,775.7 L263.9,777.9 L255.1,780.1 L246.3,782.3 L237.5,784.4 L228.6,786.6 L219.8,788.8 L211.0,790.9 L202.2,793.1 L193.3,795.2 L184.5,797.3 L175.7,799.4 L166.8,801.5 L158.0,803.6" stroke-width="1.6" stroke-opacity="0.6"/></g>
<path d="M516.9,708.8 L525.8,700.5 L534.7,708.8 L525.8,717.1 Z" fill="#108010" stroke="#108010" stroke-width="1.6" stroke-opacity="0.35" stroke-linejoin="round"/>
<path d="M1007.1,540.0 L1016.0,531.7 L1024.9,540.0 L1016.0,548.3 Z" fill="#108010" stroke="#108010" stroke-width="1.6" stroke-opacity="0.35" stroke-linejoin="round"/>
<path d="M1038.1,361.0 L1047.0,352.7 L1055.9,361.0 L1047.0,369.3 Z" fill="#108010" stroke="#108010" stroke-width="1.6" stroke-opacity="0.35" stroke-linejoin="round"/>
<g fill="none" stroke="#787878" stroke-linecap="round" stroke-linejoin="round" clip-path="url(#pc)"><path d="M158.0,196.6 L164.9,197.5 L171.8,198.5 L178.7,199.5 L185.6,200.4 L192.6,201.4 L199.5,202.4 L206.4,203.4 L213.3,204.3 L220.2,205.3 L227.1,206.3 L234.0,207.3 L240.9,208.3 L247.8,209.3 L254.7,210.4 L261.6,211.4 L268.6,212.4 L275.5,213.4 L282.4,214.5 L289.3,215.5 L296.2,216.6 L303.1,217.6 L310.0,218.7 L316.9,219.8 L323.8,220.9 L330.7,222.0 L337.6,223.1 L344.5,224.2 L351.3,225.3 L358.2,226.4 L365.1,227.5 L372.0,228.6 L378.9,229.8 L385.8,230.9 L392.7,232.1 L399.6,233.3 L406.4,234.5 L413.3,235.6 L420.2,236.8 L427.1,238.1 L433.9,239.3 L440.8,240.5 L447.7,241.7 L454.6,243.0 L461.4,244.3 L468.3,245.5 L475.1,246.8 L482.0,248.1 L488.9,249.4 L495.7,250.7 L502.6,252.0 L509.4,253.4 L516.3,254.7 L523.1,256.1 L530.0,257.5 L536.8,258.9 L543.6,260.3 L550.5,261.7 L557.3,263.1 L564.1,264.5 L571.0,266.0 L577.8,267.5 L584.6,268.9 L591.4,270.4 L598.3,271.9 L605.1,273.5 L611.9,275.0 L618.7,276.6 L625.5,278.1 L632.3,279.7 L639.1,281.3 L645.9,282.9 L652.7,284.5 L659.5,286.2 L666.2,287.8 L673.0,289.5 L679.8,291.2 L686.6,292.9 L693.3,294.6 L700.1,296.4 L706.9,298.1 L713.6,299.9 L720.4,301.7 L727.1,303.5 L733.9,305.3 L740.7,307.1 L747.4,308.9 L754.2,310.7 L760.9,312.5 L767.7,314.3 L774.4,316.1 L781.2,317.8 L788.0,319.6 L794.8,321.3 L801.5,323.0 L808.3,324.7 L815.1,326.3 L821.9,328.0 L828.7,329.7 L835.5,331.4 L842.2,333.2 L849.0,334.9 L855.7,336.8 L862.4,338.7 L869.1,340.6 L875.7,342.7 L882.3,344.8 L888.9,347.0 L895.4,349.3 L901.9,351.8 L908.3,354.4 L914.7,357.1 L921.0,359.9 L927.3,363.0 L933.6,366.2 L939.9,369.6 L946.1,373.2 L952.4,377.1 L958.5,381.2 L964.5,385.5 L970.2,390.1 L975.7,394.9 L980.7,399.9 L985.4,405.2 L989.5,410.7 L993.0,416.4 L995.9,422.4 L998.1,428.5 L999.6,435.0 L1000.1,441.6 L999.9,448.4 L998.9,455.1 L997.0,461.8 L994.4,468.3 L991.2,474.5 L987.4,480.5 L983.1,486.1 L978.5,491.4 L973.5,496.4 L968.4,501.2 L963.0,505.7 L957.5,509.9 L951.8,513.9 L946.0,517.8 L940.0,521.5 L934.0,525.1 L927.9,528.5 L921.7,531.9 L915.5,535.2 L909.3,538.5 L903.0,541.8 L896.8,545.1 L890.7,548.4 L884.5,551.8 L878.3,555.1 L872.2,558.4 L866.0,561.7 L859.9,565.0 L853.7,568.3 L847.6,571.6 L841.5,574.9 L835.3,578.1 L829.1,581.3 L823.0,584.5 L816.8,587.7 L810.6,590.9 L804.4,594.0 L798.1,597.0 L791.9,600.1 L785.6,603.1 L779.3,606.0 L773.0,608.9 L766.6,611.8 L760.3,614.6 L753.9,617.4 L747.4,620.1 L741.0,622.8 L734.6,625.5 L728.1,628.1 L721.6,630.7 L715.1,633.3 L708.6,635.8 L702.1,638.3 L695.5,640.8 L689.0,643.2 L682.4,645.6 L675.8,648.0 L669.3,650.4 L662.7,652.7 L656.1,655.0 L649.4,657.3 L642.8,659.5 L636.2,661.7 L629.6,663.9 L622.9,666.1 L616.3,668.3 L609.6,670.4 L603.0,672.5 L596.3,674.6 L589.6,676.7 L583.0,678.7 L576.3,680.8 L569.6,682.8 L562.9,684.8 L556.2,686.8 L549.5,688.7 L542.8,690.7 L536.1,692.6 L529.4,694.5 L522.7,696.4 L516.0,698.3 L509.3,700.2 L502.5,702.0 L495.8,703.9 L489.1,705.7 L482.4,707.6 L475.6,709.4 L468.9,711.2 L462.1,713.0 L455.4,714.7 L448.6,716.5 L441.9,718.3 L435.1,720.0 L428.4,721.8 L421.6,723.5 L414.9,725.3 L408.1,727.0 L401.3,728.7 L394.6,730.4 L387.8,732.2 L381.0,733.9 L374.3,735.6 L367.5,737.3 L360.7,739.0 L354.0,740.7 L347.2,742.4 L340.4,744.1 L333.7,745.8 L326.9,747.5 L320.1,749.2 L313.3,750.9 L306.6,752.6 L299.8,754.3 L293.0,756.0 L286.3,757.8 L279.5,759.5 L272.7,761.2 L266.0,762.9 L259.2,764.7 L252.4,766.4 L245.7,768.2 L238.9,769.9 L232.2,771.7 L225.4,773.4 L218.7,775.2 L211.9,777.0 L205.2,778.8 L198.4,780.6 L191.7,782.5 L184.9,784.3 L178.2,786.1 L171.5,788.0 L164.8,789.9 L158.0,791.7" stroke-width="3.0" stroke-opacity="0.35"/><path d="M158.0,196.6 L164.9,197.5 L171.8,198.5 L178.7,199.5 L185.6,200.4 L192.6,201.4 L199.5,202.4 L206.4,203.4 L213.3,204.3 L220.2,205.3 L227.1,206.3 L234.0,207.3 L240.9,208.3 L247.8,209.3 L254.7,210.4 L261.6,211.4 L268.6,212.4 L275.5,213.4 L282.4,214.5 L289.3,215.5 L296.2,216.6 L303.1,217.6 L310.0,218.7 L316.9,219.8 L323.8,220.9 L330.7,222.0 L337.6,223.1 L344.5,224.2 L351.3,225.3 L358.2,226.4 L365.1,227.5 L372.0,228.6 L378.9,229.8 L385.8,230.9 L392.7,232.1 L399.6,233.3 L406.4,234.5 L413.3,235.6 L420.2,236.8 L427.1,238.1 L433.9,239.3 L440.8,240.5 L447.7,241.7 L454.6,243.0 L461.4,244.3 L468.3,245.5 L475.1,246.8 L482.0,248.1 L488.9,249.4 L495.7,250.7 L502.6,252.0 L509.4,253.4 L516.3,254.7 L523.1,256.1 L530.0,257.5 L536.8,258.9 L543.6,260.3 L550.5,261.7 L557.3,263.1 L564.1,264.5 L571.0,266.0 L577.8,267.5 L584.6,268.9 L591.4,270.4 L598.3,271.9 L605.1,273.5 L611.9,275.0 L618.7,276.6 L625.5,278.1 L632.3,279.7 L639.1,281.3 L645.9,282.9 L652.7,284.5 L659.5,286.2 L666.2,287.8 L673.0,289.5 L679.8,291.2 L686.6,292.9 L693.3,294.6 L700.1,296.4 L706.9,298.1 L713.6,299.9 L720.4,301.7 L727.1,303.5 L733.9,305.3 L740.7,307.1 L747.4,308.9 L754.2,310.7 L760.9,312.5 L767.7,314.3 L774.4,316.1 L781.2,317.8 L788.0,319.6 L794.8,321.3 L801.5,323.0 L808.3,324.7 L815.1,326.3 L821.9,328.0 L828.7,329.7 L835.5,331.4 L842.2,333.2 L849.0,334.9 L855.7,336.8 L862.4,338.7 L869.1,340.6 L875.7,342.7 L882.3,344.8 L888.9,347.0 L895.4,349.3 L901.9,351.8 L908.3,354.4 L914.7,357.1 L921.0,359.9 L927.3,363.0 L933.6,366.2 L939.9,369.6 L946.1,373.2 L952.4,377.1 L958.5,381.2 L964.5,385.5 L970.2,390.1 L975.7,394.9 L980.7,399.9 L985.4,405.2 L989.5,410.7 L993.0,416.4 L995.9,422.4 L998.1,428.5 L999.6,435.0 L1000.1,441.6 L999.9,448.4 L998.9,455.1 L997.0,461.8 L994.4,468.3 L991.2,474.5 L987.4,480.5 L983.1,486.1 L978.5,491.4 L973.5,496.4 L968.4,501.2 L963.0,505.7 L957.5,509.9 L951.8,513.9 L946.0,517.8 L940.0,521.5 L934.0,525.1 L927.9,528.5 L921.7,531.9 L915.5,535.2 L909.3,538.5 L903.0,541.8 L896.8,545.1 L890.7,548.4 L884.5,551.8 L878.3,555.1 L872.2,558.4 L866.0,561.7 L859.9,565.0 L853.7,568.3 L847.6,571.6 L841.5,574.9 L835.3,578.1 L829.1,581.3 L823.0,584.5 L816.8,587.7 L810.6,590.9 L804.4,594.0 L798.1,597.0 L791.9,600.1 L785.6,603.1 L779.3,606.0 L773.0,608.9 L766.6,611.8 L760.3,614.6 L753.9,617.4 L747.4,620.1 L741.0,622.8 L734.6,625.5 L728.1,628.1 L721.6,630.7 L715.1,633.3 L708.6,635.8 L702.1,638.3 L695.5,640.8 L689.0,643.2 L682.4,645.6 L675.8,648.0 L669.3,650.4 L662.7,652.7 L656.1,655.0 L649.4,657.3 L642.8,659.5 L636.2,661.7 L629.6,663.9 L622.9,666.1 L616.3,668.3 L609.6,670.4 L603.0,672.5 L596.3,674.6 L589.6,676.7 L583.0,678.7 L576.3,680.8 L569.6,682.8 L562.9,684.8 L556.2,686.8 L549.5,688.7 L542.8,690.7 L536.1,692.6 L529.4,694.5 L522.7,696.4 L516.0,698.3 L509.3,700.2 L502.5,702.0 L495.8,703.9 L489.1,705.7 L482.4,707.6 L475.6,709.4 L468.9,711.2 L462.1,713.0 L455.4,714.7 L448.6,716.5 L441.9,718.3 L435.1,720.0 L428.4,721.8 L421.6,723.5 L414.9,725.3 L408.1,727.0 L401.3,728.7 L394.6,730.4 L387.8,732.2 L381.0,733.9 L374.3,735.6 L367.5,737.3 L360.7,739.0 L354.0,740.7 L347.2,742.4 L340.4,744.1 L333.7,745.8 L326.9,747.5 L320.1,749.2 L313.3,750.9 L306.6,752.6 L299.8,754.3 L293.0,756.0 L286.3,757.8 L279.5,759.5 L272.7,761.2 L266.0,762.9 L259.2,764.7 L252.4,766.4 L245.7,768.2 L238.9,769.9 L232.2,771.7 L225.4,773.4 L218.7,775.2 L211.9,777.0 L205.2,778.8 L198.4,780.6 L191.7,782.5 L184.9,784.3 L178.2,786.1 L171.5,788.0 L164.8,789.9 L158.0,791.7" stroke-width="1.6" stroke-opacity="0.6"/></g>
<path d="M636.1,665.0 L651.9,665.0 L644.0,653.4 Z" fill="#848484" stroke="#848484" stroke-width="1.6" stroke-opacity="0.35" stroke-linejoin="round"/>
<path d="M969.5,499.4 L985.3,499.4 L977.4,487.8 Z" fill="#848484" stroke="#848484" stroke-width="1.6" stroke-opacity="0.35" stroke-linejoin="round"/>
<path d="M905.6,361.0 L921.4,361.0 L913.5,349.4 Z" fill="#848484" stroke="#848484" stroke-width="1.6" stroke-opacity="0.35" stroke-linejoin="round"/>
<path d="M208.4,209.9 L224.2,209.9 L216.3,198.3 Z" fill="#848484" stroke="#848484" stroke-width="1.6" stroke-opacity="0.35" stroke-linejoin="round"/>
<g fill="none" stroke="#442424" stroke-linecap="round" stroke-linejoin="round" clip-path="url(#pc)"><path d="M158.0,220.7 L163.2,222.0 L168.5,223.3 L173.8,224.6 L179.1,225.8 L184.4,227.0 L189.7,228.2 L195.0,229.4 L200.3,230.5 L205.7,231.6 L211.0,232.7 L216.4,233.8 L221.7,234.9 L227.1,235.9 L232.5,236.9 L237.9,238.0 L243.3,239.0 L248.7,240.0 L254.1,240.9 L259.5,241.9 L264.9,242.9 L270.3,243.9 L275.7,244.8 L281.1,245.8 L286.5,246.8 L292.0,247.7 L297.4,248.7 L302.8,249.7 L308.2,250.6 L313.6,251.6 L319.0,252.6 L324.4,253.6 L329.9,254.7 L335.3,255.7 L340.7,256.7 L346.0,257.8 L351.4,258.9 L356.8,260.0 L362.2,261.1 L367.6,262.3 L372.9,263.4 L378.3,264.6 L383.6,265.8 L389.0,267.1 L394.3,268.4 L399.6,269.7 L404.9,271.0 L410.2,272.4 L415.5,273.8 L420.7,275.3 L426.0,276.7 L431.2,278.3 L436.5,279.8 L441.7,281.4 L446.9,283.1 L452.1,284.7 L457.3,286.4 L462.5,288.2 L467.6,289.9 L472.8,291.7 L478.0,293.5 L483.1,295.3 L488.3,297.1 L493.4,298.9 L498.6,300.8 L503.7,302.6 L508.9,304.5 L514.1,306.3 L519.3,308.2 L524.4,310.0 L529.6,311.8 L534.8,313.6 L540.0,315.5 L545.2,317.3 L550.5,319.1 L555.7,320.9 L560.9,322.7 L566.1,324.6 L571.3,326.4 L576.5,328.3 L581.6,330.2 L586.8,332.1 L591.9,334.1 L597.0,336.1 L602.1,338.1 L607.2,340.2 L612.2,342.4 L617.2,344.5 L622.2,346.8 L627.1,349.1 L632.0,351.5 L636.9,354.0 L641.6,356.5 L646.4,359.1 L651.1,361.8 L655.7,364.6 L660.3,367.4 L664.9,370.4 L669.3,373.5 L673.7,376.7 L678.1,379.9 L682.3,383.3 L686.5,386.8 L690.6,390.5 L694.7,394.2 L698.6,398.1 L702.5,402.1 L706.2,406.2 L709.9,410.4 L713.4,414.7 L716.8,419.0 L720.1,423.5 L723.3,428.1 L726.3,432.7 L729.2,437.5 L731.9,442.3 L734.5,447.2 L736.9,452.1 L739.2,457.1 L741.2,462.2 L743.1,467.3 L744.8,472.5 L746.4,477.7 L747.7,482.9 L748.8,488.2 L749.7,493.6 L750.3,498.9 L750.7,504.3 L750.6,509.6 L749.8,514.7 L748.1,519.6 L745.5,524.2 L742.3,528.6 L738.6,532.8 L734.7,537.0 L730.7,541.1 L726.8,545.1 L722.8,549.0 L718.9,552.9 L714.9,556.8 L710.9,560.5 L706.8,564.3 L702.7,567.9 L698.6,571.5 L694.4,575.1 L690.2,578.6 L685.9,582.0 L681.6,585.4 L677.3,588.8 L672.9,592.0 L668.5,595.3 L664.1,598.5 L659.6,601.6 L655.1,604.7 L650.6,607.7 L646.0,610.7 L641.4,613.7 L636.8,616.6 L632.1,619.5 L627.4,622.3 L622.7,625.1 L618.0,627.8 L613.2,630.5 L608.4,633.2 L603.7,635.9 L598.8,638.5 L594.0,641.0 L589.1,643.6 L584.3,646.1 L579.4,648.6 L574.5,651.0 L569.6,653.5 L564.7,655.9 L559.7,658.2 L554.8,660.6 L549.8,662.9 L544.9,665.2 L539.9,667.5 L534.9,669.7 L529.9,672.0 L524.9,674.2 L519.9,676.4 L514.8,678.5 L509.8,680.7 L504.8,682.8 L499.7,684.9 L494.7,687.0 L489.6,689.0 L484.5,691.1 L479.4,693.1 L474.3,695.1 L469.2,697.1 L464.1,699.1 L459.0,701.0 L453.9,703.0 L448.8,704.9 L443.7,706.8 L438.5,708.7 L433.4,710.6 L428.2,712.5 L423.1,714.3 L417.9,716.2 L412.8,718.0 L407.6,719.9 L402.4,721.7 L397.2,723.5 L392.1,725.3 L386.9,727.0 L381.7,728.8 L376.5,730.6 L371.3,732.3 L366.1,734.1 L360.9,735.8 L355.7,737.5 L350.5,739.3 L345.3,741.0 L340.1,742.7 L334.9,744.4 L329.6,746.1 L324.4,747.8 L319.2,749.5 L314.0,751.2 L308.8,752.9 L303.6,754.6 L298.4,756.3 L293.1,758.0 L287.9,759.7 L282.7,761.4 L277.5,763.1 L272.3,764.7 L267.1,766.4 L261.9,768.1 L256.6,769.8 L251.4,771.5 L246.2,773.2 L241.0,774.9 L235.8,776.6 L230.6,778.3 L225.4,780.0 L220.2,781.8 L215.0,783.5 L209.9,785.2 L204.7,787.0 L199.5,788.7 L194.3,790.5 L189.1,792.2 L184.0,794.0 L178.8,795.8 L173.7,797.6 L168.5,799.4 L163.4,801.2 L158.2,803.0" stroke-width="3.0" stroke-opacity="0.35"/><path d="M158.0,220.7 L163.2,222.0 L168.5,223.3 L173.8,224.6 L179.1,225.8 L184.4,227.0 L189.7,228.2 L195.0,229.4 L200.3,230.5 L205.7,231.6 L211.0,232.7 L216.4,233.8 L221.7,234.9 L227.1,235.9 L232.5,236.9 L237.9,238.0 L243.3,239.0 L248.7,240.0 L254.1,240.9 L259.5,241.9 L264.9,242.9 L270.3,243.9 L275.7,244.8 L281.1,245.8 L286.5,246.8 L292.0,247.7 L297.4,248.7 L302.8,249.7 L308.2,250.6 L313.6,251.6 L319.0,252.6 L324.4,253.6 L329.9,254.7 L335.3,255.7 L340.7,256.7 L346.0,257.8 L351.4,258.9 L356.8,260.0 L362.2,261.1 L367.6,262.3 L372.9,263.4 L378.3,264.6 L383.6,265.8 L389.0,267.1 L394.3,268.4 L399.6,269.7 L404.9,271.0 L410.2,272.4 L415.5,273.8 L420.7,275.3 L426.0,276.7 L431.2,278.3 L436.5,279.8 L441.7,281.4 L446.9,283.1 L452.1,284.7 L457.3,286.4 L462.5,288.2 L467.6,289.9 L472.8,291.7 L478.0,293.5 L483.1,295.3 L488.3,297.1 L493.4,298.9 L498.6,300.8 L503.7,302.6 L508.9,304.5 L514.1,306.3 L519.3,308.2 L524.4,310.0 L529.6,311.8 L534.8,313.6 L540.0,315.5 L545.2,317.3 L550.5,319.1 L555.7,320.9 L560.9,322.7 L566.1,324.6 L571.3,326.4 L576.5,328.3 L581.6,330.2 L586.8,332.1 L591.9,334.1 L597.0,336.1 L602.1,338.1 L607.2,340.2 L612.2,342.4 L617.2,344.5 L622.2,346.8 L627.1,349.1 L632.0,351.5 L636.9,354.0 L641.6,356.5 L646.4,359.1 L651.1,361.8 L655.7,364.6 L660.3,367.4 L664.9,370.4 L669.3,373.5 L673.7,376.7 L678.1,379.9 L682.3,383.3 L686.5,386.8 L690.6,390.5 L694.7,394.2 L698.6,398.1 L702.5,402.1 L706.2,406.2 L709.9,410.4 L713.4,414.7 L716.8,419.0 L720.1,423.5 L723.3,428.1 L726.3,432.7 L729.2,437.5 L731.9,442.3 L734.5,447.2 L736.9,452.1 L739.2,457.1 L741.2,462.2 L743.1,467.3 L744.8,472.5 L746.4,477.7 L747.7,482.9 L748.8,488.2 L749.7,493.6 L750.3,498.9 L750.7,504.3 L750.6,509.6 L749.8,514.7 L748.1,519.6 L745.5,524.2 L742.3,528.6 L738.6,532.8 L734.7,537.0 L730.7,541.1 L726.8,545.1 L722.8,549.0 L718.9,552.9 L714.9,556.8 L710.9,560.5 L706.8,564.3 L702.7,567.9 L698.6,571.5 L694.4,575.1 L690.2,578.6 L685.9,582.0 L681.6,585.4 L677.3,588.8 L672.9,592.0 L668.5,595.3 L664.1,598.5 L659.6,601.6 L655.1,604.7 L650.6,607.7 L646.0,610.7 L641.4,613.7 L636.8,616.6 L632.1,619.5 L627.4,622.3 L622.7,625.1 L618.0,627.8 L613.2,630.5 L608.4,633.2 L603.7,635.9 L598.8,638.5 L594.0,641.0 L589.1,643.6 L584.3,646.1 L579.4,648.6 L574.5,651.0 L569.6,653.5 L564.7,655.9 L559.7,658.2 L554.8,660.6 L549.8,662.9 L544.9,665.2 L539.9,667.5 L534.9,669.7 L529.9,672.0 L524.9,674.2 L519.9,676.4 L514.8,678.5 L509.8,680.7 L504.8,682.8 L499.7,684.9 L494.7,687.0 L489.6,689.0 L484.5,691.1 L479.4,693.1 L474.3,695.1 L469.2,697.1 L464.1,699.1 L459.0,701.0 L453.9,703.0 L448.8,704.9 L443.7,706.8 L438.5,708.7 L433.4,710.6 L428.2,712.5 L423.1,714.3 L417.9,716.2 L412.8,718.0 L407.6,719.9 L402.4,721.7 L397.2,723.5 L392.1,725.3 L386.9,727.0 L381.7,728.8 L376.5,730.6 L371.3,732.3 L366.1,734.1 L360.9,735.8 L355.7,737.5 L350.5,739.3 L345.3,741.0 L340.1,742.7 L334.9,744.4 L329.6,746.1 L324.4,747.8 L319.2,749.5 L314.0,751.2 L308.8,752.9 L303.6,754.6 L298.4,756.3 L293.1,758.0 L287.9,759.7 L282.7,761.4 L277.5,763.1 L272.3,764.7 L267.1,766.4 L261.9,768.1 L256.6,769.8 L251.4,771.5 L246.2,773.2 L241.0,774.9 L235.8,776.6 L230.6,778.3 L225.4,780.0 L220.2,781.8 L215.0,783.5 L209.9,785.2 L204.7,787.0 L199.5,788.7 L194.3,790.5 L189.1,792.2 L184.0,794.0 L178.8,795.8 L173.7,797.6 L168.5,799.4 L163.4,801.2 L158.2,803.0" stroke-width="1.6" stroke-opacity="0.6"/></g>
<path d="M203.3,780.9 L215.3,791.7 M203.3,791.7 L215.3,780.9" stroke="#640404" stroke-width="4.2" stroke-opacity="0.3" fill="none"/><path d="M203.3,780.9 L215.3,791.7 M203.3,791.7 L215.3,780.9" stroke="#640404" stroke-width="2.8" fill="none"/>
<path d="M558.4,651.6 L570.4,662.4 M558.4,662.4 L570.4,651.6" stroke="#640404" stroke-width="4.2" stroke-opacity="0.3" fill="none"/><path d="M558.4,651.6 L570.4,662.4 M558.4,662.4 L570.4,651.6" stroke="#640404" stroke-width="2.8" fill="none"/>
<path d="M743.5,512.7 L755.5,523.5 M743.5,523.5 L755.5,512.7" stroke="#640404" stroke-width="4.2" stroke-opacity="0.3" fill="none"/><path d="M743.5,512.7 L755.5,523.5 M743.5,523.5 L755.5,512.7" stroke="#640404" stroke-width="2.8" fill="none"/>
<path d="M683.3,382.0 L695.3,392.8 M683.3,392.8 L695.3,382.0" stroke="#640404" stroke-width="4.2" stroke-opacity="0.3" fill="none"/><path d="M683.3,382.0 L695.3,392.8 M683.3,392.8 L695.3,382.0" stroke="#640404" stroke-width="2.8" fill="none"/>
<path d="M333.5,251.1 L345.5,261.9 M333.5,261.9 L345.5,251.1" stroke="#640404" stroke-width="4.2" stroke-opacity="0.3" fill="none"/><path d="M333.5,251.1 L345.5,261.9 M333.5,261.9 L345.5,251.1" stroke="#640404" stroke-width="2.8" fill="none"/>
<g fill="none" stroke="#e060dc" stroke-linecap="round" stroke-linejoin="round" clip-path="url(#pc)"><path d="M158.0,227.0 L161.6,228.0 L165.1,229.0 L168.6,229.9 L172.2,230.9 L175.7,231.9 L179.3,232.9 L182.8,233.9 L186.4,234.9 L189.9,235.9 L193.5,236.9 L197.0,237.9 L200.6,239.0 L204.2,240.0 L207.7,241.0 L211.3,242.1 L214.8,243.2 L218.4,244.3 L222.0,245.4 L225.5,246.5 L229.0,247.6 L232.6,248.7 L236.1,249.9 L239.7,251.0 L243.2,252.2 L246.7,253.4 L250.2,254.7 L253.7,255.9 L257.2,257.1 L260.7,258.4 L264.2,259.7 L267.7,261.0 L271.1,262.4 L274.6,263.7 L278.0,265.1 L281.5,266.5 L284.9,268.0 L288.3,269.4 L291.7,270.9 L295.1,272.4 L298.4,273.9 L301.8,275.5 L305.1,277.1 L308.4,278.7 L311.7,280.3 L315.0,282.0 L318.3,283.7 L321.5,285.5 L324.8,287.2 L328.0,289.0 L331.2,290.9 L334.3,292.7 L337.5,294.6 L340.6,296.6 L343.7,298.5 L346.8,300.5 L349.9,302.6 L352.9,304.7 L356.0,306.8 L359.0,308.9 L361.9,311.1 L364.9,313.4 L367.8,315.7 L370.7,318.0 L373.6,320.3 L376.4,322.7 L379.2,325.2 L382.0,327.7 L384.8,330.2 L387.5,332.8 L390.2,335.4 L392.9,338.1" stroke-width="3.0" stroke-opacity="0.35"/><path d="M158.0,227.0 L161.6,228.0 L165.1,229.0 L168.6,229.9 L172.2,230.9 L175.7,231.9 L179.3,232.9 L182.8,233.9 L186.4,234.9 L189.9,235.9 L193.5,236.9 L197.0,237.9 L200.6,239.0 L204.2,240.0 L207.7,241.0 L211.3,242.1 L214.8,243.2 L218.4,244.3 L222.0,245.4 L225.5,246.5 L229.0,247.6 L232.6,248.7 L236.1,249.9 L239.7,251.0 L243.2,252.2 L246.7,253.4 L250.2,254.7 L253.7,255.9 L257.2,257.1 L260.7,258.4 L264.2,259.7 L267.7,261.0 L271.1,262.4 L274.6,263.7 L278.0,265.1 L281.5,266.5 L284.9,268.0 L288.3,269.4 L291.7,270.9 L295.1,272.4 L298.4,273.9 L301.8,275.5 L305.1,277.1 L308.4,278.7 L311.7,280.3 L315.0,282.0 L318.3,283.7 L321.5,285.5 L324.8,287.2 L328.0,289.0 L331.2,290.9 L334.3,292.7 L337.5,294.6 L340.6,296.6 L343.7,298.5 L346.8,300.5 L349.9,302.6 L352.9,304.7 L356.0,306.8 L359.0,308.9 L361.9,311.1 L364.9,313.4 L367.8,315.7 L370.7,318.0 L373.6,320.3 L376.4,322.7 L379.2,325.2 L382.0,327.7 L384.8,330.2 L387.5,332.8 L390.2,335.4 L392.9,338.1" stroke-width="1.6" stroke-opacity="0.6"/></g>
<g fill="none" stroke="#e060dc" stroke-linecap="round" stroke-linejoin="round" clip-path="url(#pc)"><path d="M392.8,338.1 L395.6,340.7 L398.5,343.4 L401.3,346.0 L404.2,348.6 L407.0,351.2 L409.9,353.8 L412.7,356.4 L415.6,359.1 L418.4,361.7 L421.3,364.3 L424.1,366.9 L426.9,369.5 L429.8,372.2 L432.6,374.8 L435.5,377.4 L438.3,380.0 L441.1,382.7 L444.0,385.3 L446.8,387.9 L449.6,390.6 L452.5,393.2 L455.3,395.9 L458.1,398.5 L460.9,401.1 L463.8,403.8 L466.6,406.4 L469.4,409.1 L472.2,411.8 L475.0,414.4 L477.8,417.1 L480.6,419.7 L483.4,422.4 L486.2,425.1 L489.0,427.8 L491.8,430.5 L494.6,433.1 L497.3,435.8 L500.1,438.5 L502.9,441.2 L505.6,443.9 L508.4,446.6 L511.2,449.4 L513.9,452.1 L516.7,454.8 L519.4,457.5 L522.1,460.3 L524.9,463.0 L527.6,465.7 L530.3,468.5 L533.0,471.3 L535.7,474.0 L538.4,476.8 L541.1,479.6 L543.8,482.3 L546.5,485.1 L549.2,487.9 L551.8,490.7 L554.5,493.5 L557.1,496.4" stroke-width="3.0" stroke-opacity="0.35"/><path d="M392.8,338.1 L395.6,340.7 L398.5,343.4 L401.3,346.0 L404.2,348.6 L407.0,351.2 L409.9,353.8 L412.7,356.4 L415.6,359.1 L418.4,361.7 L421.3,364.3 L424.1,366.9 L426.9,369.5 L429.8,372.2 L432.6,374.8 L435.5,377.4 L438.3,380.0 L441.1,382.7 L444.0,385.3 L446.8,387.9 L449.6,390.6 L452.5,393.2 L455.3,395.9 L458.1,398.5 L460.9,401.1 L463.8,403.8 L466.6,406.4 L469.4,409.1 L472.2,411.8 L475.0,414.4 L477.8,417.1 L480.6,419.7 L483.4,422.4 L486.2,425.1 L489.0,427.8 L491.8,430.5 L494.6,433.1 L497.3,435.8 L500.1,438.5 L502.9,441.2 L505.6,443.9 L508.4,446.6 L511.2,449.4 L513.9,452.1 L516.7,454.8 L519.4,457.5 L522.1,460.3 L524.9,463.0 L527.6,465.7 L530.3,468.5 L533.0,471.3 L535.7,474.0 L538.4,476.8 L541.1,479.6 L543.8,482.3 L546.5,485.1 L549.2,487.9 L551.8,490.7 L554.5,493.5 L557.1,496.4" stroke-width="1.6" stroke-opacity="0.6"/></g>
<g fill="none" stroke="#e060dc" stroke-linecap="round" stroke-linejoin="round" clip-path="url(#pc)"><path d="M558.5,496.4 L558.0,499.2 L557.5,502.0 L556.8,504.7 L556.1,507.4 L555.3,510.1 L554.5,512.8 L553.6,515.4 L552.6,518.0 L551.6,520.5 L550.5,523.1 L549.4,525.6 L548.2,528.1 L547.0,530.5 L545.7,532.9 L544.3,535.3 L542.9,537.7 L541.5,540.0 L540.0,542.4 L538.5,544.6 L536.9,546.9 L535.3,549.1 L533.6,551.4 L531.9,553.5 L530.2,555.7 L528.5,557.8 L526.7,559.9 L524.9,562.0 L523.0,564.1 L521.1,566.1 L519.2,568.1 L517.3,570.1 L515.4,572.1 L513.4,574.0 L511.4,575.9 L509.4,577.8 L507.4,579.7 L505.3,581.5 L503.2,583.4 L501.1,585.2 L499.0,587.0 L496.9,588.7 L494.8,590.5 L492.6,592.2 L490.4,593.9 L488.2,595.6 L486.0,597.3 L483.8,599.0 L481.6,600.6 L479.3,602.3 L477.0,603.9 L474.8,605.5 L472.5,607.1 L470.2,608.6 L467.8,610.2 L465.5,611.7 L463.2,613.3 L460.8,614.8 L458.5,616.3 L456.1,617.8 L453.7,619.3 L451.4,620.8 L449.0,622.2 L446.6,623.7 L444.2,625.1 L441.8,626.6 L439.4,628.0 L436.9,629.4 L434.5,630.8 L432.1,632.3 L429.7,633.7 L427.2,635.0 L424.8,636.4 L422.3,637.8 L419.9,639.2 L417.5,640.6 L415.0,641.9 L412.6,643.3 L410.1,644.7 L407.7,646.0 L405.2,647.4 L402.8,648.7 L400.4,650.1 L397.9,651.4 L395.5,652.7 L393.0,654.1 L390.6,655.4 L388.1,656.7 L385.7,658.1 L383.2,659.4 L380.7,660.7 L378.3,662.0 L375.8,663.3 L373.4,664.6 L370.9,665.9 L368.5,667.2 L366.0,668.5 L363.5,669.8 L361.1,671.1 L358.6,672.4 L356.1,673.6 L353.7,674.9 L351.2,676.2 L348.7,677.5 L346.3,678.7 L343.8,680.0 L341.3,681.3 L338.9,682.5 L336.4,683.8 L333.9,685.0 L331.4,686.3 L329.0,687.5 L326.5,688.8 L324.0,690.0 L321.5,691.3 L319.0,692.5 L316.6,693.7 L314.1,695.0 L311.6,696.2 L309.1,697.4 L306.6,698.7 L304.2,699.9 L301.7,701.1 L299.2,702.3 L296.7,703.6 L294.2,704.8 L291.7,706.0 L289.2,707.2 L286.7,708.4 L284.2,709.6 L281.7,710.8 L279.3,712.1 L276.8,713.3 L274.3,714.5 L271.8,715.7 L269.3,716.9 L266.8,718.1 L264.3,719.3 L261.8,720.5 L259.3,721.7 L256.8,722.9 L254.3,724.1 L251.8,725.3 L249.2,726.5 L246.7,727.7 L244.2,728.9 L241.7,730.0 L239.2,731.2 L236.7,732.4 L234.2,733.6 L231.7,734.8 L229.2,736.0 L226.7,737.2 L224.1,738.4 L221.6,739.6 L219.1,740.8 L216.6,741.9 L214.1,743.1 L211.6,744.3 L209.0,745.5 L206.5,746.7 L204.0,747.9 L201.5,749.1 L199.0,750.3 L196.4,751.4 L193.9,752.6 L191.4,753.8 L188.8,755.0 L186.3,756.2 L183.8,757.4 L181.3,758.6 L178.7,759.8 L176.2,761.0 L173.7,762.1 L171.1,763.3 L168.6,764.5 L166.1,765.7 L163.5,766.9 L161.0,768.1 L158.5,769.3" stroke-width="3.0" stroke-opacity="0.35"/><path d="M558.5,496.4 L558.0,499.2 L557.5,502.0 L556.8,504.7 L556.1,507.4 L555.3,510.1 L554.5,512.8 L553.6,515.4 L552.6,518.0 L551.6,520.5 L550.5,523.1 L549.4,525.6 L548.2,528.1 L547.0,530.5 L545.7,532.9 L544.3,535.3 L542.9,537.7 L541.5,540.0 L540.0,542.4 L538.5,544.6 L536.9,546.9 L535.3,549.1 L533.6,551.4 L531.9,553.5 L530.2,555.7 L528.5,557.8 L526.7,559.9 L524.9,562.0 L523.0,564.1 L521.1,566.1 L519.2,568.1 L517.3,570.1 L515.4,572.1 L513.4,574.0 L511.4,575.9 L509.4,577.8 L507.4,579.7 L505.3,581.5 L503.2,583.4 L501.1,585.2 L499.0,587.0 L496.9,588.7 L494.8,590.5 L492.6,592.2 L490.4,593.9 L488.2,595.6 L486.0,597.3 L483.8,599.0 L481.6,600.6 L479.3,602.3 L477.0,603.9 L474.8,605.5 L472.5,607.1 L470.2,608.6 L467.8,610.2 L465.5,611.7 L463.2,613.3 L460.8,614.8 L458.5,616.3 L456.1,617.8 L453.7,619.3 L451.4,620.8 L449.0,622.2 L446.6,623.7 L444.2,625.1 L441.8,626.6 L439.4,628.0 L436.9,629.4 L434.5,630.8 L432.1,632.3 L429.7,633.7 L427.2,635.0 L424.8,636.4 L422.3,637.8 L419.9,639.2 L417.5,640.6 L415.0,641.9 L412.6,643.3 L410.1,644.7 L407.7,646.0 L405.2,647.4 L402.8,648.7 L400.4,650.1 L397.9,651.4 L395.5,652.7 L393.0,654.1 L390.6,655.4 L388.1,656.7 L385.7,658.1 L383.2,659.4 L380.7,660.7 L378.3,662.0 L375.8,663.3 L373.4,664.6 L370.9,665.9 L368.5,667.2 L366.0,668.5 L363.5,669.8 L361.1,671.1 L358.6,672.4 L356.1,673.6 L353.7,674.9 L351.2,676.2 L348.7,677.5 L346.3,678.7 L343.8,680.0 L341.3,681.3 L338.9,682.5 L336.4,683.8 L333.9,685.0 L331.4,686.3 L329.0,687.5 L326.5,688.8 L324.0,690.0 L321.5,691.3 L319.0,692.5 L316.6,693.7 L314.1,695.0 L311.6,696.2 L309.1,697.4 L306.6,698.7 L304.2,699.9 L301.7,701.1 L299.2,702.3 L296.7,703.6 L294.2,704.8 L291.7,706.0 L289.2,707.2 L286.7,708.4 L284.2,709.6 L281.7,710.8 L279.3,712.1 L276.8,713.3 L274.3,714.5 L271.8,715.7 L269.3,716.9 L266.8,718.1 L264.3,719.3 L261.8,720.5 L259.3,721.7 L256.8,722.9 L254.3,724.1 L251.8,725.3 L249.2,726.5 L246.7,727.7 L244.2,728.9 L241.7,730.0 L239.2,731.2 L236.7,732.4 L234.2,733.6 L231.7,734.8 L229.2,736.0 L226.7,737.2 L224.1,738.4 L221.6,739.6 L219.1,740.8 L216.6,741.9 L214.1,743.1 L211.6,744.3 L209.0,745.5 L206.5,746.7 L204.0,747.9 L201.5,749.1 L199.0,750.3 L196.4,751.4 L193.9,752.6 L191.4,753.8 L188.8,755.0 L186.3,756.2 L183.8,757.4 L181.3,758.6 L178.7,759.8 L176.2,761.0 L173.7,762.1 L171.1,763.3 L168.6,764.5 L166.1,765.7 L163.5,766.9 L161.0,768.1 L158.5,769.3" stroke-width="1.6" stroke-opacity="0.6"/></g>
<circle cx="455.1" cy="619.3" r="8.3" fill="#fa0af0" stroke="#fa0af0" stroke-width="1.6" stroke-opacity="0.35" stroke-linejoin="round"/>
<circle cx="557.2" cy="496.3" r="8.3" fill="#fa0af0" stroke="#fa0af0" stroke-width="1.6" stroke-opacity="0.35" stroke-linejoin="round"/>
<circle cx="392.8" cy="338.1" r="8.3" fill="#fa0af0" stroke="#fa0af0" stroke-width="1.6" stroke-opacity="0.35" stroke-linejoin="round"/>
<g fill="none" stroke="#303030"><path d="M157.9,124.4H1279.9V896.8H157.9ZM157.90,896.8V906.8M344.90,896.8V906.8M531.90,896.8V906.8M718.90,896.8V906.8M905.90,896.8V906.8M1092.90,896.8V906.8M1279.90,896.8V906.8M145.4,124.40H157.9M145.4,316.80H157.9M145.4,509.40H157.9M145.4,702.40H157.9M145.4,896.80H157.9" stroke-width="4.0" stroke-opacity="0.3"/><path d="M157.9,124.4H1279.9V896.8H157.9ZM157.90,896.8V906.8M344.90,896.8V906.8M531.90,896.8V906.8M718.90,896.8V906.8M905.90,896.8V906.8M1092.90,896.8V906.8M1279.90,896.8V906.8M145.4,124.40H157.9M145.4,316.80H157.9M145.4,509.40H157.9M145.4,702.40H157.9M145.4,896.80H157.9" stroke-width="2.6" stroke-opacity="1.0"/></g>
<rect x="1121.8" y="17.0" width="365.20000000000005" height="286.5" rx="3.5" fill="#ffffff"/>
<g fill="none" stroke="#8e8e8e" stroke-linecap="round"><path d="M1121.8,300.0V20.5A3.5,3.5 0 0 1 1125.3,17.0H1483.5" stroke-width="3.8" stroke-opacity="0.3"/><path d="M1121.8,300.0V20.5A3.5,3.5 0 0 1 1125.3,17.0H1483.5" stroke-width="2.4" stroke-opacity="0.95"/></g>
<g fill="none" stroke="#3a3a3a" stroke-linecap="butt"><path d="M1121.8,300.0A3.5,3.5 0 0 0 1125.3,303.5H1483.5A3.5,3.5 0 0 0 1487.0,300.0V20.5A3.5,3.5 0 0 0 1483.5,17.0" stroke-width="4.0" stroke-opacity="0.3"/><path d="M1121.8,300.0A3.5,3.5 0 0 0 1125.3,303.5H1483.5A3.5,3.5 0 0 0 1487.0,300.0V20.5A3.5,3.5 0 0 0 1483.5,17.0" stroke-width="2.6" stroke-opacity="1.0"/></g>
<g fill="none" stroke="#cc3850"><path d="M1143,58.4H1213.5" stroke-width="3.2" stroke-opacity="0.3"/><path d="M1143,58.4H1213.5" stroke-width="2.0" stroke-opacity="1.0"/></g>
<rect x="1171.4" y="51.5" width="16.4" height="13.8" fill="#f0101c" stroke="#f0101c" stroke-width="1.6" stroke-opacity="0.35" stroke-linejoin="round"/>
<g fill="none" stroke="#3030b8"><path d="M1143,92.9H1213.5" stroke-width="3.2" stroke-opacity="0.3"/><path d="M1143,92.9H1213.5" stroke-width="2.0" stroke-opacity="1.0"/></g>
<path d="M1171.6,88.1 L1187.6,88.1 L1179.6,101.7 Z" fill="#0a0af0" stroke="#0a0af0" stroke-width="1.6" stroke-opacity="0.35" stroke-linejoin="round"/>
<g fill="none" stroke="#7c7c20"><path d="M1143,126.5H1213.5" stroke-width="3.2" stroke-opacity="0.3"/><path d="M1143,126.5H1213.5" stroke-width="2.0" stroke-opacity="1.0"/></g>
<circle cx="1179.6" cy="126.5" r="6.3" fill="#848410" stroke="#848410" stroke-width="1.6" stroke-opacity="0.35" stroke-linejoin="round"/>
<g fill="none" stroke="#207020"><path d="M1143,161.2H1213.5" stroke-width="3.2" stroke-opacity="0.3"/><path d="M1143,161.2H1213.5" stroke-width="2.0" stroke-opacity="1.0"/></g>
<path d="M1170.7,161.2 L1179.6,152.9 L1188.5,161.2 L1179.6,169.5 Z" fill="#108010" stroke="#108010" stroke-width="1.6" stroke-opacity="0.35" stroke-linejoin="round"/>
<g fill="none" stroke="#7a7a7a"><path d="M1143,196H1213.5" stroke-width="3.2" stroke-opacity="0.3"/><path d="M1143,196H1213.5" stroke-width="2.0" stroke-opacity="1.0"/></g>
<path d="M1171.7,201.0 L1187.5,201.0 L1179.6,189.4 Z" fill="#848484" stroke="#848484" stroke-width="1.6" stroke-opacity="0.35" stroke-linejoin="round"/>
<g fill="none" stroke="#6a2828"><path d="M1143,231H1213.5" stroke-width="3.2" stroke-opacity="0.3"/><path d="M1143,231H1213.5" stroke-width="2.0" stroke-opacity="1.0"/></g>
<path d="M1173.6,225.6 L1185.6,236.4 M1173.6,236.4 L1185.6,225.6" stroke="#640404" stroke-width="4.2" stroke-opacity="0.3" fill="none"/><path d="M1173.6,225.6 L1185.6,236.4 M1173.6,236.4 L1185.6,225.6" stroke="#640404" stroke-width="2.8" fill="none"/>
<g fill="none" stroke="#d030d0"><path d="M1143,264.2H1213.5" stroke-width="3.2" stroke-opacity="0.3"/><path d="M1143,264.2H1213.5" stroke-width="2.0" stroke-opacity="1.0"/></g>
<circle cx="1179.6" cy="264.2" r="8.3" fill="#fa0af0" stroke="#fa0af0" stroke-width="1.6" stroke-opacity="0.35" stroke-linejoin="round"/>
<g stroke="#1c1c1c" stroke-width="0.6" stroke-linejoin="round">
<text transform="translate(157.2,951.5) scale(1.0,1)" font-size="33.5" letter-spacing="0.8" text-anchor="middle">0.66</text>
<text transform="translate(344.2,951.5) scale(1.0,1)" font-size="33.5" letter-spacing="0.8" text-anchor="middle">0.68</text>
<text transform="translate(531.2,951.5) scale(1.0,1)" font-size="33.5" letter-spacing="0.8" text-anchor="middle">0.70</text>
<text transform="translate(718.2,951.5) scale(1.0,1)" font-size="33.5" letter-spacing="0.8" text-anchor="middle">0.72</text>
<text transform="translate(905.2,951.5) scale(1.0,1)" font-size="33.5" letter-spacing="0.8" text-anchor="middle">0.74</text>
<text transform="translate(1092.2,951.5) scale(1.0,1)" font-size="33.5" letter-spacing="0.8" text-anchor="middle">0.76</text>
<text transform="translate(1279.2,951.5) scale(1.0,1)" font-size="33.5" letter-spacing="0.8" text-anchor="middle">0.78</text>
<text transform="translate(128.3,135.3) scale(1.0,1)" font-size="33.5" letter-spacing="0.8" text-anchor="end">100</text>
<text transform="translate(128.3,327.7) scale(1.0,1)" font-size="33.5" letter-spacing="0.8" text-anchor="end">90</text>
<text transform="translate(128.3,520.3) scale(1.0,1)" font-size="33.5" letter-spacing="0.8" text-anchor="end">80</text>
<text transform="translate(128.3,713.3) scale(1.0,1)" font-size="33.5" letter-spacing="0.8" text-anchor="end">70</text>
<text transform="translate(128.3,907.7) scale(1.0,1)" font-size="33.5" letter-spacing="0.8" text-anchor="end">60</text>
<text transform="translate(514.6,1018.4) scale(1.04,1)" font-size="34.5" letter-spacing="0.72" text-anchor="start">Velocity magnitude (m/s)</text>
<text transform="translate(34.9,683.3) rotate(-90)" x="0 21.5 28.7 57.4 79.6 100.7 115.2 136 145.4 171.3 194.7 210.2 233.3 245.2 260.5 294.4 336.5" font-size="38">y-Coordinate (mm)</text>
</g>
<g stroke="#1c1c1c" stroke-width="0.8" stroke-linejoin="round">
<text transform="translate(1231.6,67.7) scale(1.07,1)" x="0.0 20.1 36.1 48.4 57.6 77.3 104.2 120.8 128.7 143.4 155.9 174.4 181.7 200.4" font-size="29.3">Extremely Fine</text>
<text transform="translate(1231.7,101.7) scale(1.0,1)" font-size="29.3" letter-spacing="0.75" text-anchor="start">Extra Fine</text>
<text transform="translate(1231.7,135.5) scale(1.0,1)" font-size="29.3" letter-spacing="0.5" text-anchor="start">Finer</text>
<text transform="translate(1231.7,171.1) scale(1.0,1)" font-size="29.3" letter-spacing="0.7" text-anchor="start">Fine</text>
<text transform="translate(1231.7,206.0) scale(1.0,1)" font-size="29.3" letter-spacing="1.0" text-anchor="start">Normal</text>
<text transform="translate(1231.7,240.6) scale(1.0,1)" font-size="29.3" letter-spacing="1.0" text-anchor="start">Coarse</text>
<text transform="translate(1231.7,274.0) scale(1.0,1)" font-size="29.3" letter-spacing="1.1" text-anchor="start">Coarser</text>
</g>
</svg>
</body></html>
